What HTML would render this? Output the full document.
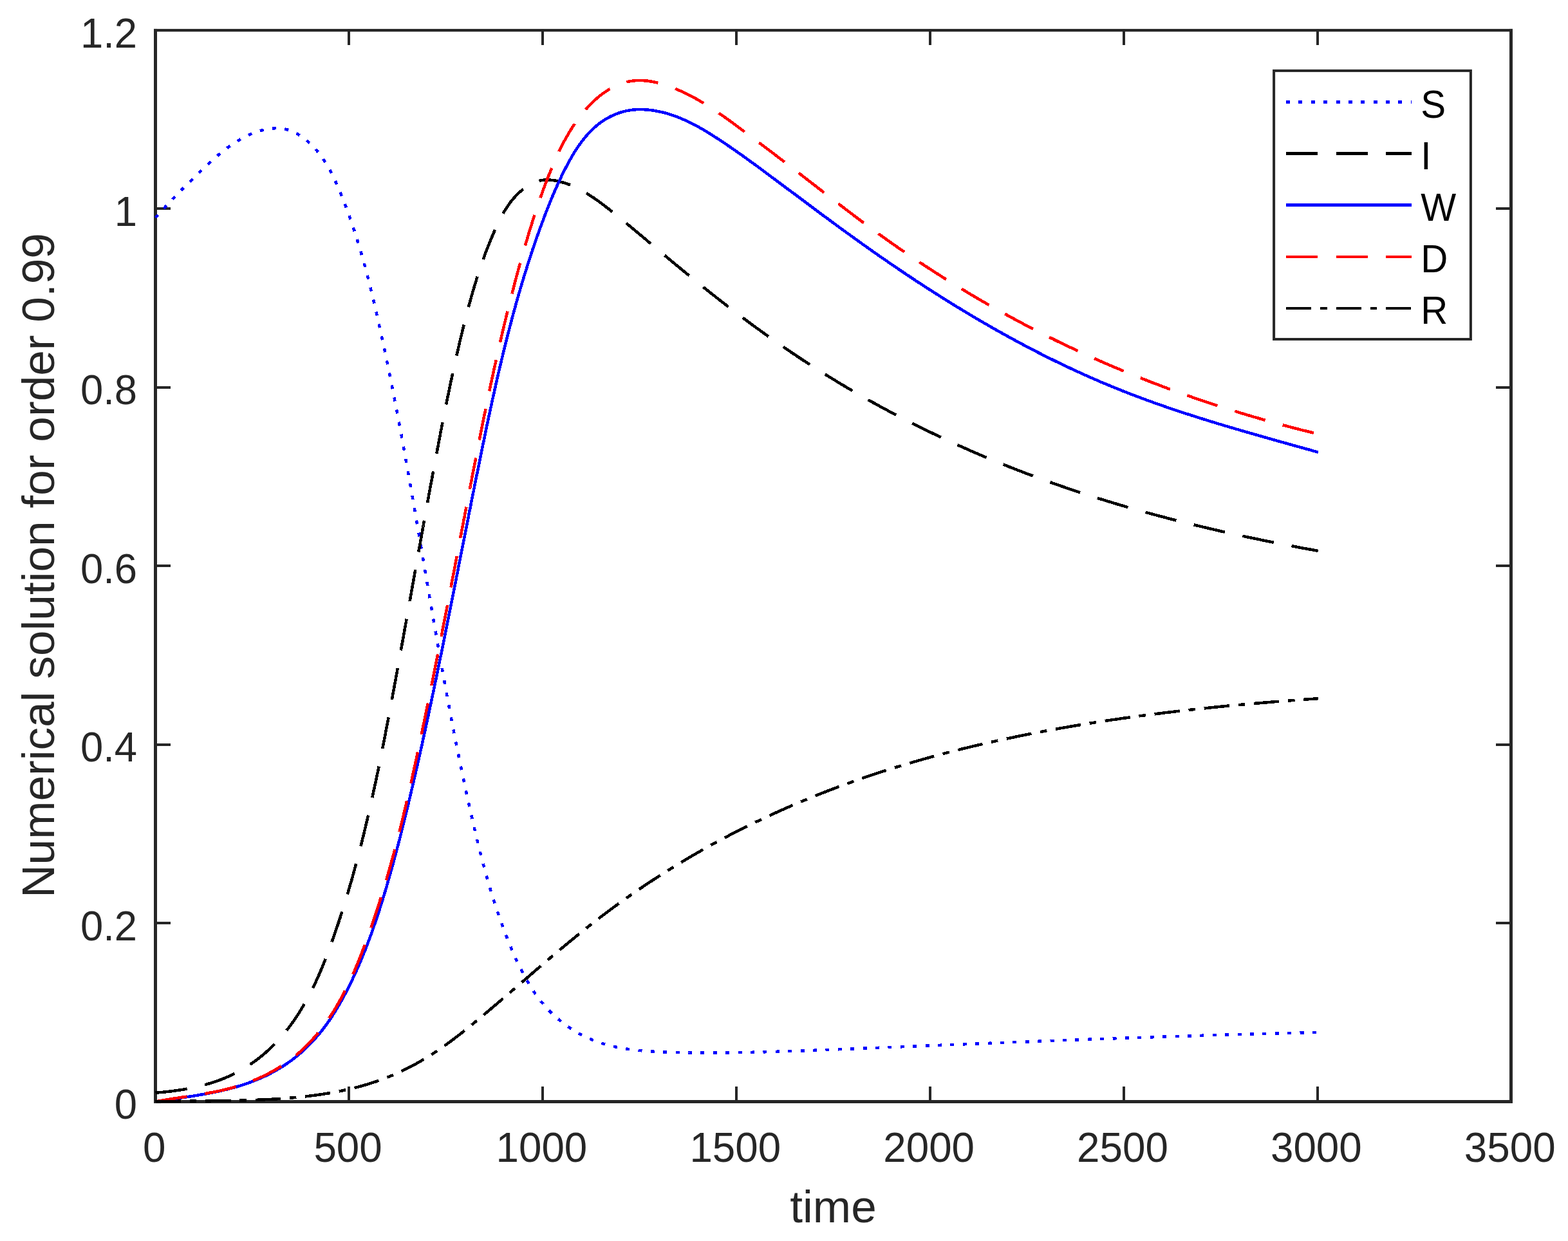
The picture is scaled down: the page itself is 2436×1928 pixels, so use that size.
<!DOCTYPE html>
<html lang="en"><head><meta charset="utf-8"><title>Numerical solution for order 0.99</title>
<style>html,body{margin:0;padding:0;background:#fff;overflow:hidden}svg{display:block}text{font-family:"Liberation Sans",sans-serif}</style></head><body>
<svg width="2436" height="1928" viewBox="0 0 2436 1928">
<rect x="0" y="0" width="2436" height="1928" fill="#ffffff"/>
<g fill="#262626" shape-rendering="auto">
<rect x="239" y="44.9" width="5" height="1669.1"/>
<rect x="2345" y="44.9" width="5" height="1669.1"/>
<rect x="239" y="1709" width="2111" height="5"/>
<rect x="239" y="44.9" width="2111" height="4.3"/>
<rect x="540" y="1688" width="4" height="21"/>
<rect x="540" y="49" width="4" height="21"/>
<rect x="841" y="1688" width="4" height="21"/>
<rect x="841" y="49" width="4" height="21"/>
<rect x="1142" y="1688" width="4" height="21"/>
<rect x="1142" y="49" width="4" height="21"/>
<rect x="1443" y="1688" width="4" height="21"/>
<rect x="1443" y="49" width="4" height="21"/>
<rect x="1744" y="1688" width="4" height="21"/>
<rect x="1744" y="49" width="4" height="21"/>
<rect x="2045" y="1688" width="4" height="21"/>
<rect x="2045" y="49" width="4" height="21"/>
<rect x="244" y="1432" width="21" height="4"/>
<rect x="2324" y="1432" width="21" height="4"/>
<rect x="244" y="1155" width="21" height="4"/>
<rect x="2324" y="1155" width="21" height="4"/>
<rect x="244" y="877" width="21" height="4"/>
<rect x="2324" y="877" width="21" height="4"/>
<rect x="244" y="600" width="21" height="4"/>
<rect x="2324" y="600" width="21" height="4"/>
<rect x="244" y="322" width="21" height="4"/>
<rect x="2324" y="322" width="21" height="4"/>
</g>
<g fill="none" stroke-linejoin="round" stroke-linecap="butt" shape-rendering="crispEdges">
<path d="M241.5 338.3L242.8 336.8L244.2 335.3L245.5 333.8L246.9 332.3L248.2 330.8L249.6 329.3L250.9 327.8L252.3 326.3L253.6 324.8L255.0 323.4L256.3 321.9L257.7 320.4L259.1 319.0L260.4 317.5L261.8 316.1L263.2 314.6L264.5 313.2L265.9 311.7L267.3 310.3L268.7 308.8L270.0 307.4L271.4 306.0L272.8 304.5L274.2 303.1L275.6 301.7L277.0 300.3L278.3 298.9L279.7 297.4L281.1 296.0L282.5 294.6L283.9 293.2L285.3 291.8L286.7 290.4L288.1 289.0L289.5 287.6L290.9 286.2L292.4 284.8L293.8 283.4L295.2 282.0L296.6 280.6L298.0 279.2L299.4 277.8L300.9 276.4L302.3 275.0L303.7 273.6L305.2 272.2L306.6 270.8L308.0 269.4L309.5 268.1L310.9 266.7L312.4 265.3L313.8 263.9L315.3 262.5L316.7 261.1L318.2 259.7L319.6 258.4L321.1 257.0L322.6 255.6L324.1 254.2L325.5 252.9L327.0 251.5L328.5 250.2L330.0 248.8L331.5 247.5L333.0 246.1L334.5 244.8L336.1 243.5L337.6 242.2L339.1 240.9L340.7 239.6L342.2 238.3L343.8 237.0L345.3 235.8L346.9 234.5L348.5 233.3L350.1 232.1L351.7 230.9L353.3 229.7L354.9 228.5L356.5 227.3L358.2 226.2L359.8 225.0L361.5 223.9L363.1 222.8L364.8 221.7L366.5 220.6L368.2 219.6L369.9 218.5L371.7 217.5L373.4 216.5L375.1 215.5L376.9 214.5L378.7 213.6L380.5 212.7L382.3 211.8L384.1 210.9L385.9 210.0L387.8 209.2L389.6 208.4L391.5 207.6L393.4 206.9L395.3 206.1L397.2 205.4L399.1 204.8L401.0 204.1L402.9 203.5L404.9 202.9L406.8 202.4L408.8 201.9L410.8 201.4L412.7 201.0L414.7 200.6L416.6 200.3L418.6 200.0L420.6 199.7L422.6 199.5L424.5 199.4L426.5 199.3L428.4 199.2L430.4 199.2L432.3 199.3L434.3 199.4L436.2 199.6L438.2 199.8L440.1 200.1L442.0 200.4L443.9 200.8L445.8 201.3L447.6 201.9L449.5 202.5L451.3 203.1L453.2 203.8L455.0 204.6L456.8 205.4L458.6 206.3L460.3 207.2L462.1 208.2L463.8 209.2L465.5 210.3L467.2 211.4L468.9 212.5L470.5 213.7L472.2 214.9L473.8 216.1L475.3 217.4L476.9 218.6L478.4 219.9L479.9 221.3L481.4 222.6L482.8 224.0L484.3 225.4L485.7 226.8L487.1 228.2L488.4 229.7L489.7 231.1L491.0 232.6L492.3 234.1L493.6 235.7L494.8 237.2L496.1 238.7L497.3 240.3L498.5 241.9L499.6 243.5L500.8 245.1L501.9 246.7L503.0 248.4L504.1 250.1L505.2 251.7L506.2 253.4L507.3 255.1L508.3 256.8L509.3 258.5L510.3 260.3L511.3 262.0L512.2 263.8L513.2 265.5L514.1 267.3L515.0 269.1L516.0 270.9L516.9 272.7L517.7 274.5L518.6 276.3L519.5 278.1L520.3 279.9L521.2 281.8L522.0 283.6L522.8 285.4L523.7 287.3L524.5 289.1L525.3 291.0L526.1 292.9L526.8 294.7L527.6 296.6L528.4 298.5L529.2 300.3L529.9 302.2L530.7 304.1L531.4 305.9L532.2 307.8L532.9 309.7L533.7 311.6L534.4 313.4L535.1 315.3L535.8 317.2L536.6 319.1L537.3 321.0L538.0 322.8L538.7 324.7L539.4 326.6L540.1 328.5L540.8 330.4L541.4 332.3L542.1 334.2L542.8 336.1L543.5 338.0L544.1 339.9L544.8 341.7L545.4 343.6L546.1 345.5L546.8 347.4L547.4 349.3L548.0 351.2L548.7 353.1L549.3 355.0L549.9 356.9L550.6 358.8L551.2 360.7L551.8 362.6L552.4 364.6L553.0 366.5L553.6 368.4L554.2 370.3L554.8 372.2L555.4 374.1L556.0 376.0L556.6 377.9L557.2 379.8L557.8 381.7L558.3 383.7L558.9 385.6L559.5 387.5L560.0 389.4L560.6 391.3L561.2 393.3L561.7 395.2L562.3 397.1L562.8 399.0L563.4 400.9L563.9 402.9L564.4 404.8L565.0 406.7L565.5 408.6L566.0 410.6L566.6 412.5L567.1 414.4L567.6 416.3L568.1 418.3L568.6 420.2L569.2 422.1L569.7 424.1L570.2 426.0L570.7 427.9L571.2 429.8L571.7 431.8L572.2 433.7L572.7 435.7L573.2 437.6L573.7 439.5L574.2 441.5L574.6 443.4L575.1 445.3L575.6 447.3L576.1 449.2L576.6 451.1L577.0 453.1L577.5 455.0L578.0 457.0L578.5 458.9L578.9 460.8L579.4 462.8L579.8 464.7L580.3 466.7L580.8 468.6L581.2 470.6L581.7 472.5L582.1 474.4L582.6 476.4L583.0 478.3L583.5 480.3L583.9 482.2L584.4 484.2L584.8 486.1L585.3 488.1L585.7 490.0L586.2 492.0L586.6 493.9L587.0 495.9L587.5 497.8L587.9 499.8L588.3 501.7L588.8 503.7L589.2 505.6L589.6 507.6L590.1 509.5L590.5 511.5L590.9 513.4L591.4 515.4L591.8 517.3L592.2 519.3L592.6 521.2L593.1 523.2L593.5 525.1L593.9 527.1L594.3 529.0L594.8 531.0L595.2 532.9L595.6 534.9L596.0 536.8L596.4 538.8L596.8 540.7L597.3 542.7L597.7 544.7L598.1 546.6L598.5 548.6L598.9 550.5L599.3 552.5L599.7 554.4L600.1 556.4L600.5 558.3L600.9 560.3L601.3 562.3L601.8 564.2L602.2 566.2L602.6 568.1L603.0 570.1L603.4 572.0L603.8 574.0L604.2 576.0L604.6 577.9L605.0 579.9L605.4 581.8L605.8 583.8L606.2 585.8L606.5 587.7L606.9 589.7L607.3 591.6L607.7 593.6L608.1 595.6L608.5 597.5L608.9 599.5L609.3 601.4L609.7 603.4L610.1 605.4L610.5 607.3L610.8 609.3L611.2 611.2L611.6 613.2L612.0 615.2L612.4 617.1L612.8 619.1L613.1 621.1L613.5 623.0L613.9 625.0L614.3 626.9L614.7 628.9L615.0 630.9L615.4 632.8L615.8 634.8L616.2 636.8L616.6 638.7L616.9 640.7L617.3 642.7L617.7 644.6L618.0 646.6L618.4 648.6L618.8 650.5L619.2 652.5L619.5 654.5L619.9 656.4L620.3 658.4L620.6 660.3L621.0 662.3L621.4 664.3L621.7 666.2L622.1 668.2L622.5 670.2L622.8 672.1L623.2 674.1L623.6 676.1L623.9 678.1L624.3 680.0L624.7 682.0L625.0 684.0L625.4 685.9L625.8 687.9L626.1 689.9L626.5 691.8L626.8 693.8L627.2 695.8L627.6 697.7L627.9 699.7L628.3 701.7L628.6 703.6L629.0 705.6L629.3 707.6L629.7 709.5L630.0 711.5L630.4 713.5L630.8 715.5L631.1 717.4L631.5 719.4L631.8 721.4L632.2 723.3L632.5 725.3L632.9 727.3L633.2 729.2L633.6 731.2L633.9 733.2L634.3 735.2L634.6 737.1L635.0 739.1L635.3 741.1L635.7 743.0L636.0 745.0L636.4 747.0L636.7 749.0L637.1 750.9L637.4 752.9L637.8 754.9L638.1 756.8L638.5 758.8L638.8 760.8L639.1 762.8L639.5 764.7L639.8 766.7L640.2 768.7L640.5 770.6L640.9 772.6L641.2 774.6L641.6 776.6L641.9 778.5L642.2 780.5L642.6 782.5L642.9 784.4L643.3 786.4L643.6 788.4L643.9 790.4L644.3 792.3L644.6 794.3L645.0 796.3L645.3 798.2L645.6 800.2L646.0 802.2L646.3 804.2L646.7 806.1L647.0 808.1L647.3 810.1L647.7 812.1L648.0 814.0L648.4 816.0L648.7 818.0L649.0 819.9L649.4 821.9L649.7 823.9L650.1 825.9L650.4 827.8L650.7 829.8L651.1 831.8L651.4 833.8L651.7 835.7L652.1 837.7L652.4 839.7L652.7 841.6L653.1 843.6L653.4 845.6L653.8 847.6L654.1 849.5L654.4 851.5L654.8 853.5L655.1 855.5L655.4 857.4L655.8 859.4L656.1 861.4L656.4 863.4L656.8 865.3L657.1 867.3L657.5 869.3L657.8 871.2L658.1 873.2L658.5 875.2L658.8 877.2L659.1 879.1L659.5 881.1L659.8 883.1L660.1 885.1L660.5 887.0L660.8 889.0L661.1 891.0L661.5 892.9L661.8 894.9L662.2 896.9L662.5 898.9L662.8 900.8L663.2 902.8L663.5 904.8L663.8 906.7L664.2 908.7L664.5 910.7L664.8 912.7L665.2 914.6L665.5 916.6L665.8 918.6L666.2 920.6L666.5 922.5L666.9 924.5L667.2 926.5L667.5 928.4L667.9 930.4L668.2 932.4L668.5 934.4L668.9 936.3L669.2 938.3L669.6 940.3L669.9 942.2L670.2 944.2L670.6 946.2L670.9 948.2L671.3 950.1L671.6 952.1L671.9 954.1L672.3 956.0L672.6 958.0L673.0 960.0L673.3 962.0L673.6 963.9L674.0 965.9L674.3 967.9L674.7 969.8L675.0 971.8L675.3 973.8L675.7 975.8L676.0 977.7L676.4 979.7L676.7 981.7L677.1 983.6L677.4 985.6L677.7 987.6L678.1 989.5L678.4 991.5L678.8 993.5L679.1 995.5L679.5 997.4L679.8 999.4L680.2 1001.4L680.5 1003.3L680.8 1005.3L681.2 1007.3L681.5 1009.2L681.9 1011.2L682.2 1013.2L682.6 1015.2L682.9 1017.1L683.3 1019.1L683.6 1021.1L684.0 1023.0L684.3 1025.0L684.7 1027.0L685.0 1028.9L685.4 1030.9L685.7 1032.9L686.1 1034.8L686.4 1036.8L686.8 1038.8L687.1 1040.7L687.5 1042.7L687.9 1044.7L688.2 1046.6L688.6 1048.6L688.9 1050.6L689.3 1052.5L689.6 1054.5L690.0 1056.5L690.4 1058.4L690.7 1060.4L691.1 1062.4L691.4 1064.3L691.8 1066.3L692.2 1068.3L692.5 1070.2L692.9 1072.2L693.2 1074.2L693.6 1076.1L694.0 1078.1L694.3 1080.1L694.7 1082.0L695.1 1084.0L695.4 1086.0L695.8 1087.9L696.2 1089.9L696.5 1091.9L696.9 1093.8L697.3 1095.8L697.6 1097.8L698.0 1099.7L698.4 1101.7L698.7 1103.7L699.1 1105.6L699.5 1107.6L699.9 1109.5L700.2 1111.5L700.6 1113.5L701.0 1115.4L701.4 1117.4L701.7 1119.4L702.1 1121.3L702.5 1123.3L702.9 1125.3L703.2 1127.2L703.6 1129.2L704.0 1131.1L704.4 1133.1L704.8 1135.1L705.1 1137.0L705.5 1139.0L705.9 1141.0L706.3 1142.9L706.7 1144.9L707.1 1146.8L707.5 1148.8L707.8 1150.8L708.2 1152.7L708.6 1154.7L709.0 1156.6L709.4 1158.6L709.8 1160.6L710.2 1162.5L710.6 1164.5L711.0 1166.4L711.4 1168.4L711.8 1170.4L712.2 1172.3L712.5 1174.3L712.9 1176.2L713.3 1178.2L713.7 1180.2L714.1 1182.1L714.5 1184.1L714.9 1186.0L715.3 1188.0L715.8 1189.9L716.2 1191.9L716.6 1193.9L717.0 1195.8L717.4 1197.8L717.8 1199.7L718.2 1201.7L718.6 1203.6L719.0 1205.6L719.4 1207.6L719.8 1209.5L720.3 1211.5L720.7 1213.4L721.1 1215.4L721.5 1217.3L721.9 1219.3L722.3 1221.2L722.8 1223.2L723.2 1225.1L723.6 1227.1L724.0 1229.1L724.4 1231.0L724.9 1233.0L725.3 1234.9L725.7 1236.9L726.1 1238.8L726.6 1240.8L727.0 1242.7L727.4 1244.7L727.9 1246.6L728.3 1248.6L728.7 1250.5L729.2 1252.5L729.6 1254.4L730.0 1256.4L730.5 1258.3L730.9 1260.3L731.3 1262.2L731.8 1264.2L732.2 1266.1L732.7 1268.1L733.1 1270.0L733.6 1272.0L734.0 1273.9L734.5 1275.9L734.9 1277.8L735.4 1279.8L735.8 1281.7L736.3 1283.7L736.7 1285.6L737.2 1287.6L737.6 1289.5L738.1 1291.5L738.5 1293.4L739.0 1295.4L739.5 1297.3L739.9 1299.3L740.4 1301.2L740.9 1303.1L741.3 1305.1L741.8 1307.0L742.3 1309.0L742.8 1310.9L743.2 1312.9L743.7 1314.8L744.2 1316.7L744.7 1318.7L745.2 1320.6L745.6 1322.6L746.1 1324.5L746.6 1326.4L747.1 1328.4L747.6 1330.3L748.1 1332.3L748.6 1334.2L749.1 1336.1L749.6 1338.1L750.1 1340.0L750.6 1341.9L751.2 1343.9L751.7 1345.8L752.2 1347.7L752.7 1349.7L753.2 1351.6L753.8 1353.5L754.3 1355.4L754.8 1357.4L755.4 1359.3L755.9 1361.2L756.4 1363.1L757.0 1365.1L757.5 1367.0L758.1 1368.9L758.6 1370.8L759.2 1372.8L759.8 1374.7L760.3 1376.6L760.9 1378.5L761.5 1380.4L762.0 1382.3L762.6 1384.3L763.2 1386.2L763.8 1388.1L764.4 1390.0L764.9 1391.9L765.5 1393.8L766.1 1395.7L766.7 1397.6L767.3 1399.5L767.9 1401.4L768.6 1403.3L769.2 1405.3L769.8 1407.2L770.4 1409.1L771.0 1411.0L771.7 1412.9L772.3 1414.8L772.9 1416.6L773.6 1418.5L774.2 1420.4L774.9 1422.3L775.5 1424.2L776.2 1426.1L776.9 1428.0L777.5 1429.9L778.2 1431.8L778.9 1433.7L779.6 1435.5L780.2 1437.4L780.9 1439.3L781.6 1441.2L782.3 1443.1L783.0 1444.9L783.7 1446.8L784.5 1448.7L785.2 1450.6L785.9 1452.4L786.6 1454.3L787.4 1456.2L788.1 1458.0L788.8 1459.9L789.6 1461.8L790.3 1463.6L791.1 1465.5L791.9 1467.4L792.6 1469.2L793.4 1471.1L794.2 1472.9L795.0 1474.8L795.7 1476.6L796.5 1478.5L797.3 1480.3L798.1 1482.2L799.0 1484.0L799.8 1485.9L800.6 1487.7L801.4 1489.5L802.3 1491.4L803.1 1493.2L804.0 1495.0L804.8 1496.8L805.7 1498.6L806.6 1500.4L807.5 1502.3L808.3 1504.1L809.2 1505.8L810.2 1507.6L811.1 1509.4L812.0 1511.2L812.9 1513.0L813.9 1514.7L814.8 1516.5L815.8 1518.3L816.8 1520.0L817.7 1521.8L818.7 1523.5L819.7 1525.2L820.8 1526.9L821.8 1528.6L822.8 1530.4L823.9 1532.0L824.9 1533.7L826.0 1535.4L827.1 1537.1L828.2 1538.7L829.3 1540.4L830.4 1542.0L831.5 1543.7L832.7 1545.3L833.8 1546.9L835.0 1548.5L836.2 1550.1L837.4 1551.7L838.6 1553.3L839.8 1554.8L841.0 1556.4L842.3 1557.9L843.6 1559.5L844.8 1561.0L846.1 1562.5L847.4 1564.0L848.8 1565.5L850.1 1566.9L851.5 1568.4L852.8 1569.8L854.2 1571.2L855.6 1572.7L857.1 1574.1L858.5 1575.5L859.9 1576.8L861.4 1578.2L862.9 1579.5L864.4 1580.9L865.9 1582.2L867.4 1583.5L869.0 1584.8L870.5 1586.0L872.1 1587.3L873.7 1588.5L875.2 1589.8L876.9 1591.0L878.5 1592.2L880.1 1593.3L881.7 1594.5L883.4 1595.7L885.1 1596.8L886.7 1597.9L888.4 1599.0L890.1 1600.1L891.8 1601.1L893.6 1602.2L895.3 1603.2L897.0 1604.2L898.8 1605.2L900.5 1606.2L902.3 1607.1L904.1 1608.0L905.9 1609.0L907.7 1609.9L909.5 1610.7L911.3 1611.6L913.1 1612.4L914.9 1613.2L916.8 1614.0L918.6 1614.8L920.4 1615.6L922.3 1616.3L924.2 1617.0L926.0 1617.7L927.9 1618.4L929.8 1619.1L931.7 1619.7L933.5 1620.3L935.4 1620.9L937.3 1621.5L939.2 1622.1L941.2 1622.6L943.1 1623.2L945.0 1623.7L946.9 1624.2L948.8 1624.7L950.8 1625.1L952.7 1625.6L954.7 1626.0L956.6 1626.5L958.6 1626.9L960.5 1627.3L962.5 1627.6L964.4 1628.0L966.4 1628.4L968.4 1628.7L970.3 1629.0L972.3 1629.4L974.3 1629.7L976.3 1630.0L978.3 1630.2L980.3 1630.5L982.2 1630.8L984.2 1631.0L986.2 1631.3L988.2 1631.5L990.2 1631.7L992.2 1631.9L994.2 1632.1L996.2 1632.3L998.2 1632.5L1000.2 1632.6L1002.3 1632.8L1004.3 1633.0L1006.3 1633.1L1008.3 1633.3L1010.3 1633.4L1012.3 1633.5L1014.3 1633.7L1016.3 1633.8L1018.3 1633.9L1020.4 1634.0L1022.4 1634.1L1024.4 1634.2L1026.4 1634.3L1028.4 1634.4L1030.4 1634.4L1032.4 1634.5L1034.4 1634.6L1036.5 1634.7L1038.5 1634.7L1040.5 1634.8L1042.5 1634.9L1044.5 1634.9L1046.5 1635.0L1048.5 1635.0L1050.5 1635.1L1052.5 1635.1L1054.5 1635.2L1056.5 1635.2L1058.5 1635.3L1060.5 1635.3L1062.5 1635.4L1064.5 1635.4L1066.5 1635.4L1068.5 1635.4L1070.5 1635.5L1072.5 1635.5L1074.5 1635.5L1076.5 1635.5L1078.5 1635.6L1080.5 1635.6L1082.5 1635.6L1084.5 1635.6L1086.5 1635.6L1088.5 1635.6L1090.5 1635.6L1092.4 1635.6L1094.4 1635.6L1096.4 1635.6L1098.4 1635.6L1100.4 1635.6L1102.4 1635.6L1104.4 1635.6L1106.4 1635.6L1108.4 1635.6L1110.4 1635.6L1112.4 1635.6L1114.4 1635.6L1116.4 1635.5L1118.4 1635.5L1120.4 1635.5L1122.4 1635.5L1124.4 1635.5L1126.4 1635.4L1128.4 1635.4L1130.3 1635.4L1132.3 1635.4L1134.3 1635.4L1136.3 1635.3L1138.3 1635.3L1140.3 1635.3L1142.3 1635.2L1144.3 1635.2L1146.3 1635.2L1148.3 1635.1L1150.3 1635.1L1152.3 1635.1L1154.3 1635.0L1156.3 1635.0L1158.3 1635.0L1160.3 1634.9L1162.3 1634.9L1164.3 1634.8L1166.3 1634.8L1168.3 1634.8L1170.3 1634.7L1172.3 1634.7L1174.3 1634.6L1176.3 1634.6L1178.3 1634.5L1180.3 1634.5L1182.3 1634.4L1184.3 1634.4L1186.3 1634.3L1188.3 1634.3L1190.3 1634.2L1192.3 1634.2L1194.3 1634.1L1196.2 1634.1L1198.2 1634.0L1200.2 1633.9L1202.2 1633.9L1204.2 1633.8L1206.2 1633.8L1208.2 1633.7L1210.2 1633.6L1212.2 1633.6L1214.2 1633.5L1216.2 1633.5L1218.2 1633.4L1220.2 1633.3L1222.2 1633.3L1224.2 1633.2L1226.2 1633.1L1228.2 1633.1L1230.2 1633.0L1232.2 1632.9L1234.2 1632.9L1236.2 1632.8L1238.2 1632.7L1240.2 1632.7L1242.2 1632.6L1244.2 1632.5L1246.2 1632.4L1248.2 1632.4L1250.2 1632.3L1252.2 1632.2L1254.2 1632.2L1256.2 1632.1L1258.2 1632.0L1260.2 1631.9L1262.2 1631.9L1264.2 1631.8L1266.2 1631.7L1268.2 1631.6L1270.2 1631.6L1272.2 1631.5L1274.2 1631.4L1276.2 1631.3L1278.2 1631.2L1280.2 1631.2L1282.2 1631.1L1284.2 1631.0L1286.2 1630.9L1288.2 1630.8L1290.2 1630.8L1292.2 1630.7L1294.2 1630.6L1296.2 1630.5L1298.2 1630.4L1300.2 1630.4L1302.2 1630.3L1304.2 1630.2L1306.2 1630.1L1308.2 1630.0L1310.2 1630.0L1312.2 1629.9L1314.2 1629.8L1316.2 1629.7L1318.2 1629.6L1320.2 1629.6L1322.2 1629.5L1324.2 1629.4L1326.2 1629.3L1328.2 1629.2L1330.2 1629.1L1332.2 1629.1L1334.2 1629.0L1336.2 1628.9L1338.2 1628.8L1340.2 1628.7L1342.2 1628.7L1344.2 1628.6L1346.2 1628.5L1348.2 1628.4L1350.2 1628.3L1352.2 1628.2L1354.2 1628.2L1356.2 1628.1L1358.2 1628.0L1360.2 1627.9L1362.2 1627.8L1364.2 1627.8L1366.2 1627.7L1368.2 1627.6L1370.2 1627.5L1372.2 1627.4L1374.2 1627.3L1376.2 1627.3L1378.2 1627.2L1380.2 1627.1L1382.2 1627.0L1384.2 1626.9L1386.2 1626.9L1388.2 1626.8L1390.2 1626.7L1392.2 1626.6L1394.2 1626.5L1396.2 1626.4L1398.2 1626.4L1400.2 1626.3L1402.2 1626.2L1404.2 1626.1L1406.2 1626.0L1408.2 1626.0L1410.2 1625.9L1412.2 1625.8L1414.2 1625.7L1416.2 1625.6L1418.2 1625.5L1420.2 1625.5L1422.2 1625.4L1424.2 1625.3L1426.2 1625.2L1428.2 1625.1L1430.2 1625.1L1432.2 1625.0L1434.2 1624.9L1436.2 1624.8L1438.2 1624.7L1440.2 1624.6L1442.2 1624.6L1444.2 1624.5L1446.2 1624.4L1448.2 1624.3L1450.1 1624.2L1452.1 1624.2L1454.1 1624.1L1456.1 1624.0L1458.1 1623.9L1460.1 1623.8L1462.1 1623.7L1464.1 1623.7L1466.1 1623.6L1468.1 1623.5L1470.1 1623.4L1472.1 1623.3L1474.1 1623.3L1476.1 1623.2L1478.1 1623.1L1480.1 1623.0L1482.1 1622.9L1484.1 1622.9L1486.1 1622.8L1488.1 1622.7L1490.1 1622.6L1492.1 1622.5L1494.1 1622.4L1496.1 1622.4L1498.1 1622.3L1500.1 1622.2L1502.1 1622.1L1504.1 1622.0L1506.1 1622.0L1508.1 1621.9L1510.1 1621.8L1512.1 1621.7L1514.1 1621.6L1516.1 1621.6L1518.1 1621.5L1520.1 1621.4L1522.1 1621.3L1524.1 1621.2L1526.1 1621.2L1528.1 1621.1L1530.1 1621.0L1532.1 1620.9L1534.1 1620.8L1536.1 1620.8L1538.1 1620.7L1540.1 1620.6L1542.1 1620.5L1544.1 1620.4L1546.1 1620.4L1548.1 1620.3L1550.1 1620.2L1552.1 1620.1L1554.1 1620.0L1556.1 1620.0L1558.1 1619.9L1560.1 1619.8L1562.1 1619.7L1564.1 1619.6L1566.1 1619.6L1568.1 1619.5L1570.1 1619.4L1572.1 1619.3L1574.1 1619.2L1576.1 1619.2L1578.1 1619.1L1580.1 1619.0L1582.0 1618.9L1584.0 1618.9L1586.0 1618.8L1588.0 1618.7L1590.0 1618.6L1592.0 1618.5L1594.0 1618.5L1596.0 1618.4L1598.0 1618.3L1600.0 1618.2L1602.0 1618.2L1604.0 1618.1L1606.0 1618.0L1608.0 1617.9L1610.0 1617.8L1612.0 1617.8L1614.0 1617.7L1616.0 1617.6L1618.0 1617.5L1620.0 1617.5L1622.0 1617.4L1624.0 1617.3L1626.0 1617.2L1628.0 1617.1L1630.0 1617.1L1632.0 1617.0L1634.0 1616.9L1636.0 1616.8L1638.0 1616.8L1640.0 1616.7L1642.0 1616.6L1644.0 1616.5L1646.0 1616.5L1648.0 1616.4L1650.0 1616.3L1652.0 1616.2L1654.0 1616.2L1656.0 1616.1L1658.0 1616.0L1660.0 1615.9L1662.0 1615.9L1664.0 1615.8L1666.0 1615.7L1668.0 1615.6L1670.0 1615.6L1672.0 1615.5L1674.0 1615.4L1676.0 1615.3L1678.0 1615.3L1680.0 1615.2L1682.0 1615.1L1684.0 1615.0L1686.0 1615.0L1688.0 1614.9L1690.0 1614.8L1692.0 1614.7L1694.0 1614.7L1696.0 1614.6L1698.0 1614.5L1699.9 1614.4L1701.9 1614.4L1703.9 1614.3L1705.9 1614.2L1707.9 1614.1L1709.9 1614.1L1711.9 1614.0L1713.9 1613.9L1715.9 1613.9L1717.9 1613.8L1719.9 1613.7L1721.9 1613.6L1723.9 1613.6L1725.9 1613.5L1727.9 1613.4L1729.9 1613.3L1731.9 1613.3L1733.9 1613.2L1735.9 1613.1L1737.9 1613.1L1739.9 1613.0L1741.9 1612.9L1743.9 1612.9L1745.9 1612.8L1747.9 1612.7L1749.9 1612.6L1751.9 1612.6L1753.9 1612.5L1755.9 1612.4L1757.9 1612.4L1759.9 1612.3L1761.9 1612.2L1763.9 1612.1L1765.9 1612.1L1767.9 1612.0L1769.9 1611.9L1771.9 1611.9L1773.9 1611.8L1775.9 1611.7L1777.9 1611.7L1779.9 1611.6L1781.9 1611.5L1783.9 1611.5L1785.9 1611.4L1787.9 1611.3L1789.9 1611.3L1791.9 1611.2L1793.9 1611.1L1795.9 1611.1L1797.9 1611.0L1799.9 1610.9L1801.9 1610.9L1803.9 1610.8L1805.9 1610.7L1807.9 1610.7L1809.9 1610.6L1811.9 1610.5L1813.9 1610.5L1815.9 1610.4L1817.9 1610.3L1819.9 1610.3L1821.9 1610.2L1823.9 1610.1L1825.9 1610.1L1827.9 1610.0L1829.9 1609.9L1831.9 1609.9L1833.8 1609.8L1835.8 1609.7L1837.8 1609.7L1839.8 1609.6L1841.8 1609.5L1843.8 1609.5L1845.8 1609.4L1847.8 1609.3L1849.8 1609.3L1851.8 1609.2L1853.8 1609.2L1855.8 1609.1L1857.8 1609.0L1859.8 1609.0L1861.8 1608.9L1863.8 1608.8L1865.8 1608.8L1867.8 1608.7L1869.8 1608.7L1871.8 1608.6L1873.8 1608.5L1875.8 1608.5L1877.8 1608.4L1879.8 1608.4L1881.8 1608.3L1883.8 1608.2L1885.8 1608.2L1887.8 1608.1L1889.8 1608.1L1891.8 1608.0L1893.8 1607.9L1895.8 1607.9L1897.8 1607.8L1899.8 1607.8L1901.8 1607.7L1903.8 1607.6L1905.8 1607.6L1907.8 1607.5L1909.8 1607.5L1911.8 1607.4L1913.8 1607.3L1915.8 1607.3L1917.8 1607.2L1919.8 1607.2L1921.8 1607.1L1923.8 1607.1L1925.8 1607.0L1927.8 1606.9L1929.8 1606.9L1931.8 1606.8L1933.8 1606.8L1935.8 1606.7L1937.8 1606.7L1939.8 1606.6L1941.8 1606.5L1943.8 1606.5L1945.8 1606.4L1947.8 1606.4L1949.8 1606.3L1951.8 1606.3L1953.8 1606.2L1955.8 1606.2L1957.8 1606.1L1959.8 1606.1L1961.8 1606.0L1963.8 1606.0L1965.8 1605.9L1967.8 1605.8L1969.8 1605.8L1971.8 1605.7L1973.8 1605.7L1975.8 1605.6L1977.8 1605.6L1979.8 1605.5L1981.8 1605.5L1983.8 1605.4L1985.8 1605.4L1987.8 1605.3L1989.8 1605.3L1991.8 1605.2L1993.8 1605.2L1995.8 1605.1L1997.8 1605.1L1999.8 1605.0L2001.8 1605.0L2003.8 1604.9L2005.8 1604.9L2007.8 1604.8L2009.8 1604.8L2011.8 1604.7L2013.8 1604.7L2015.8 1604.6L2017.8 1604.6L2019.8 1604.5L2021.8 1604.5L2023.8 1604.4L2025.8 1604.4L2027.8 1604.4L2029.8 1604.3L2031.8 1604.3L2033.8 1604.2L2035.8 1604.2L2037.8 1604.1L2039.8 1604.1L2041.8 1604.0L2043.8 1604.0L2045.8 1603.9L2047.8 1603.9" stroke="#0000ff" stroke-width="4.5" stroke-dasharray="6 13.414"/>
<path d="M241.5 1697.7L243.5 1697.5L245.4 1697.4L247.4 1697.2L249.4 1697.1L251.3 1696.9L253.3 1696.7L255.3 1696.5L257.3 1696.3L259.3 1696.1L261.2 1695.9L263.2 1695.6L265.2 1695.4L267.2 1695.2L269.2 1694.9L271.2 1694.6L273.1 1694.4L275.1 1694.1L277.1 1693.8L279.1 1693.5L281.1 1693.2L283.1 1692.9L285.1 1692.5L287.0 1692.2L289.0 1691.8L291.0 1691.5L293.0 1691.1L295.0 1690.7L296.9 1690.3L298.9 1689.9L300.9 1689.5L302.8 1689.1L304.8 1688.6L306.8 1688.2L308.7 1687.7L310.7 1687.3L312.6 1686.8L314.6 1686.3L316.5 1685.8L318.5 1685.2L320.4 1684.7L322.4 1684.1L324.3 1683.6L326.2 1683.0L328.1 1682.4L330.0 1681.8L332.0 1681.2L333.9 1680.6L335.8 1679.9L337.7 1679.2L339.5 1678.6L341.4 1677.9L343.3 1677.2L345.2 1676.5L347.0 1675.7L348.9 1675.0L350.7 1674.2L352.6 1673.4L354.4 1672.6L356.2 1671.8L358.1 1671.0L359.9 1670.1L361.7 1669.3L363.5 1668.4L365.2 1667.5L367.0 1666.6L368.8 1665.7L370.5 1664.7L372.3 1663.8L374.0 1662.8L375.8 1661.8L377.5 1660.8L379.2 1659.8L380.9 1658.7L382.6 1657.7L384.3 1656.6L386.0 1655.5L387.7 1654.4L389.3 1653.3L391.0 1652.2L392.6 1651.0L394.2 1649.9L395.9 1648.7L397.5 1647.5L399.1 1646.3L400.7 1645.1L402.2 1643.9L403.8 1642.7L405.4 1641.4L406.9 1640.2L408.4 1638.9L410.0 1637.6L411.5 1636.3L413.0 1635.0L414.5 1633.6L416.0 1632.3L417.5 1631.0L418.9 1629.6L420.4 1628.2L421.8 1626.8L423.2 1625.4L424.7 1624.0L426.1 1622.6L427.5 1621.2L428.8 1619.7L430.2 1618.3L431.6 1616.8L432.9 1615.4L434.3 1613.9L435.6 1612.4L436.9 1610.9L438.2 1609.4L439.5 1607.9L440.8 1606.3L442.1 1604.8L443.3 1603.2L444.6 1601.7L445.8 1600.1L447.0 1598.5L448.3 1597.0L449.5 1595.4L450.7 1593.8L451.9 1592.2L453.0 1590.5L454.2 1588.9L455.4 1587.3L456.5 1585.6L457.7 1584.0L458.8 1582.3L459.9 1580.7L461.0 1579.0L462.1 1577.3L463.2 1575.7L464.3 1574.0L465.4 1572.3L466.4 1570.6L467.5 1568.9L468.5 1567.1L469.5 1565.4L470.6 1563.7L471.6 1562.0L472.6 1560.2L473.6 1558.5L474.6 1556.7L475.6 1555.0L476.5 1553.2L477.5 1551.5L478.5 1549.7L479.4 1547.9L480.3 1546.2L481.3 1544.4L482.2 1542.6L483.1 1540.8L484.0 1539.0L484.9 1537.2L485.8 1535.4L486.7 1533.6L487.6 1531.8L488.4 1530.0L489.3 1528.2L490.1 1526.4L491.0 1524.6L491.8 1522.7L492.6 1520.9L493.5 1519.1L494.3 1517.3L495.1 1515.4L495.9 1513.6L496.7 1511.8L497.5 1509.9L498.3 1508.1L499.0 1506.2L499.8 1504.4L500.6 1502.5L501.3 1500.7L502.1 1498.8L502.8 1497.0L503.6 1495.1L504.3 1493.3L505.0 1491.4L505.8 1489.5L506.5 1487.7L507.2 1485.8L507.9 1483.9L508.6 1482.1L509.3 1480.2L510.1 1478.3L510.8 1476.5L511.4 1474.6L512.1 1472.7L512.8 1470.8L513.5 1468.9L514.2 1467.1L514.9 1465.2L515.5 1463.3L516.2 1461.4L516.9 1459.5L517.5 1457.7L518.2 1455.8L518.9 1453.9L519.5 1452.0L520.2 1450.1L520.8 1448.2L521.5 1446.3L522.1 1444.4L522.8 1442.5L523.4 1440.7L524.1 1438.8L524.7 1436.9L525.3 1435.0L526.0 1433.1L526.6 1431.2L527.2 1429.3L527.8 1427.4L528.5 1425.5L529.1 1423.6L529.7 1421.7L530.3 1419.8L530.9 1417.9L531.5 1416.0L532.1 1414.1L532.7 1412.2L533.3 1410.3L533.9 1408.4L534.5 1406.5L535.1 1404.6L535.7 1402.6L536.3 1400.7L536.9 1398.8L537.5 1396.9L538.1 1395.0L538.6 1393.1L539.2 1391.2L539.8 1389.3L540.4 1387.4L540.9 1385.4L541.5 1383.5L542.1 1381.6L542.6 1379.7L543.2 1377.8L543.7 1375.9L544.3 1373.9L544.9 1372.0L545.4 1370.1L546.0 1368.2L546.5 1366.3L547.1 1364.3L547.6 1362.4L548.1 1360.5L548.7 1358.6L549.2 1356.7L549.7 1354.7L550.3 1352.8L550.8 1350.9L551.3 1348.9L551.9 1347.0L552.4 1345.1L552.9 1343.2L553.4 1341.2L554.0 1339.3L554.5 1337.4L555.0 1335.4L555.5 1333.5L556.0 1331.6L556.5 1329.7L557.0 1327.7L557.5 1325.8L558.0 1323.9L558.5 1321.9L559.0 1320.0L559.5 1318.0L560.0 1316.1L560.5 1314.2L561.0 1312.2L561.5 1310.3L562.0 1308.4L562.5 1306.4L563.0 1304.5L563.4 1302.5L563.9 1300.6L564.4 1298.7L564.9 1296.7L565.4 1294.8L565.8 1292.8L566.3 1290.9L566.8 1288.9L567.2 1287.0L567.7 1285.1L568.2 1283.1L568.6 1281.2L569.1 1279.2L569.6 1277.3L570.0 1275.3L570.5 1273.4L570.9 1271.4L571.4 1269.5L571.9 1267.5L572.3 1265.6L572.8 1263.6L573.2 1261.7L573.7 1259.7L574.1 1257.8L574.5 1255.8L575.0 1253.9L575.4 1251.9L575.9 1250.0L576.3 1248.0L576.7 1246.1L577.2 1244.1L577.6 1242.2L578.1 1240.2L578.5 1238.3L578.9 1236.3L579.3 1234.4L579.8 1232.4L580.2 1230.5L580.6 1228.5L581.0 1226.5L581.5 1224.6L581.9 1222.6L582.3 1220.7L582.7 1218.7L583.2 1216.8L583.6 1214.8L584.0 1212.8L584.4 1210.9L584.8 1208.9L585.2 1207.0L585.6 1205.0L586.1 1203.0L586.5 1201.1L586.9 1199.1L587.3 1197.2L587.7 1195.2L588.1 1193.2L588.5 1191.3L588.9 1189.3L589.3 1187.4L589.7 1185.4L590.1 1183.4L590.5 1181.5L590.9 1179.5L591.3 1177.6L591.7 1175.6L592.1 1173.6L592.5 1171.7L592.9 1169.7L593.3 1167.7L593.7 1165.8L594.0 1163.8L594.4 1161.8L594.8 1159.9L595.2 1157.9L595.6 1155.9L596.0 1154.0L596.4 1152.0L596.8 1150.1L597.1 1148.1L597.5 1146.1L597.9 1144.2L598.3 1142.2L598.7 1140.2L599.1 1138.3L599.4 1136.3L599.8 1134.3L600.2 1132.4L600.6 1130.4L600.9 1128.4L601.3 1126.5L601.7 1124.5L602.1 1122.5L602.5 1120.6L602.8 1118.6L603.2 1116.6L603.6 1114.7L603.9 1112.7L604.3 1110.7L604.7 1108.8L605.1 1106.8L605.4 1104.8L605.8 1102.9L606.2 1100.9L606.5 1098.9L606.9 1096.9L607.3 1095.0L607.7 1093.0L608.0 1091.0L608.4 1089.1L608.8 1087.1L609.1 1085.1L609.5 1083.2L609.9 1081.2L610.2 1079.2L610.6 1077.3L611.0 1075.3L611.3 1073.3L611.7 1071.4L612.1 1069.4L612.4 1067.4L612.8 1065.5L613.1 1063.5L613.5 1061.5L613.9 1059.6L614.2 1057.6L614.6 1055.6L615.0 1053.7L615.3 1051.7L615.7 1049.7L616.0 1047.7L616.4 1045.8L616.8 1043.8L617.1 1041.8L617.5 1039.9L617.8 1037.9L618.2 1035.9L618.6 1034.0L618.9 1032.0L619.3 1030.0L619.6 1028.1L620.0 1026.1L620.4 1024.1L620.7 1022.2L621.1 1020.2L621.4 1018.2L621.8 1016.3L622.1 1014.3L622.5 1012.3L622.9 1010.4L623.2 1008.4L623.6 1006.4L623.9 1004.5L624.3 1002.5L624.6 1000.5L625.0 998.5L625.4 996.6L625.7 994.6L626.1 992.6L626.4 990.7L626.8 988.7L627.1 986.7L627.5 984.8L627.8 982.8L628.2 980.8L628.5 978.9L628.9 976.9L629.3 974.9L629.6 973.0L630.0 971.0L630.3 969.0L630.7 967.1L631.0 965.1L631.4 963.1L631.7 961.2L632.1 959.2L632.4 957.2L632.8 955.3L633.1 953.3L633.5 951.3L633.8 949.3L634.2 947.4L634.6 945.4L634.9 943.4L635.3 941.5L635.6 939.5L636.0 937.5L636.3 935.6L636.7 933.6L637.0 931.6L637.4 929.7L637.7 927.7L638.1 925.7L638.4 923.8L638.8 921.8L639.1 919.8L639.5 917.9L639.8 915.9L640.2 913.9L640.5 912.0L640.9 910.0L641.2 908.0L641.6 906.1L641.9 904.1L642.3 902.1L642.6 900.2L643.0 898.2L643.4 896.2L643.7 894.2L644.1 892.3L644.4 890.3L644.8 888.3L645.1 886.4L645.5 884.4L645.8 882.4L646.2 880.5L646.5 878.5L646.9 876.5L647.2 874.6L647.6 872.6L647.9 870.6L648.3 868.7L648.6 866.7L649.0 864.7L649.3 862.8L649.7 860.8L650.0 858.8L650.4 856.9L650.7 854.9L651.1 852.9L651.5 851.0L651.8 849.0L652.2 847.0L652.5 845.1L652.9 843.1L653.2 841.1L653.6 839.2L653.9 837.2L654.3 835.2L654.6 833.2L655.0 831.3L655.3 829.3L655.7 827.3L656.1 825.4L656.4 823.4L656.8 821.4L657.1 819.5L657.5 817.5L657.8 815.5L658.2 813.6L658.5 811.6L658.9 809.6L659.3 807.7L659.6 805.7L660.0 803.7L660.3 801.8L660.7 799.8L661.0 797.8L661.4 795.9L661.8 793.9L662.1 791.9L662.5 790.0L662.8 788.0L663.2 786.0L663.6 784.1L663.9 782.1L664.3 780.1L664.6 778.2L665.0 776.2L665.4 774.2L665.7 772.3L666.1 770.3L666.4 768.3L666.8 766.4L667.2 764.4L667.5 762.4L667.9 760.5L668.2 758.5L668.6 756.5L669.0 754.6L669.3 752.6L669.7 750.6L670.1 748.7L670.4 746.7L670.8 744.7L671.2 742.8L671.5 740.8L671.9 738.8L672.2 736.9L672.6 734.9L673.0 732.9L673.3 731.0L673.7 729.0L674.1 727.0L674.4 725.1L674.8 723.1L675.2 721.1L675.6 719.2L675.9 717.2L676.3 715.2L676.7 713.3L677.0 711.3L677.4 709.3L677.8 707.4L678.1 705.4L678.5 703.4L678.9 701.5L679.3 699.5L679.6 697.5L680.0 695.6L680.4 693.6L680.8 691.6L681.1 689.7L681.5 687.7L681.9 685.7L682.3 683.8L682.6 681.8L683.0 679.8L683.4 677.9L683.8 675.9L684.1 673.9L684.5 672.0L684.9 670.0L685.3 668.0L685.7 666.1L686.0 664.1L686.4 662.1L686.8 660.2L687.2 658.2L687.6 656.2L688.0 654.3L688.4 652.3L688.7 650.3L689.1 648.4L689.5 646.4L689.9 644.5L690.3 642.5L690.7 640.5L691.1 638.6L691.5 636.6L691.9 634.6L692.3 632.7L692.7 630.7L693.1 628.8L693.5 626.8L693.8 624.8L694.2 622.9L694.6 620.9L695.1 618.9L695.5 617.0L695.9 615.0L696.3 613.1L696.7 611.1L697.1 609.1L697.5 607.2L697.9 605.2L698.3 603.3L698.7 601.3L699.1 599.3L699.5 597.4L699.9 595.4L700.4 593.5L700.8 591.5L701.2 589.6L701.6 587.6L702.0 585.6L702.5 583.7L702.9 581.7L703.3 579.8L703.7 577.8L704.2 575.9L704.6 573.9L705.0 572.0L705.4 570.0L705.9 568.0L706.3 566.1L706.7 564.1L707.2 562.2L707.6 560.2L708.1 558.3L708.5 556.3L708.9 554.4L709.4 552.4L709.8 550.5L710.3 548.5L710.7 546.6L711.2 544.6L711.6 542.7L712.1 540.7L712.5 538.8L713.0 536.8L713.4 534.9L713.9 532.9L714.3 531.0L714.8 529.1L715.3 527.1L715.7 525.2L716.2 523.2L716.7 521.3L717.1 519.3L717.6 517.4L718.1 515.5L718.6 513.5L719.0 511.6L719.5 509.6L720.0 507.7L720.5 505.8L721.0 503.8L721.5 501.9L721.9 499.9L722.4 498.0L722.9 496.1L723.4 494.1L723.9 492.2L724.4 490.3L724.9 488.3L725.4 486.4L725.9 484.5L726.4 482.5L726.9 480.6L727.5 478.7L728.0 476.7L728.5 474.8L729.0 472.9L729.5 470.9L730.1 469.0L730.6 467.1L731.1 465.2L731.7 463.2L732.2 461.3L732.8 459.4L733.3 457.5L733.9 455.6L734.4 453.6L735.0 451.7L735.5 449.8L736.1 447.9L736.7 446.0L737.2 444.1L737.8 442.2L738.4 440.2L739.0 438.3L739.6 436.4L740.1 434.5L740.7 432.6L741.3 430.7L742.0 428.8L742.6 426.9L743.2 425.0L743.8 423.1L744.4 421.2L745.0 419.3L745.7 417.4L746.3 415.5L747.0 413.6L747.6 411.7L748.3 409.8L748.9 408.0L749.6 406.1L750.2 404.2L750.9 402.3L751.6 400.4L752.3 398.5L753.0 396.7L753.7 394.8L754.3 392.9L755.1 391.0L755.8 389.2L756.5 387.3L757.2 385.4L757.9 383.6L758.7 381.7L759.4 379.8L760.2 378.0L760.9 376.1L761.7 374.3L762.4 372.4L763.2 370.5L764.0 368.7L764.8 366.8L765.5 365.0L766.3 363.1L767.1 361.3L768.0 359.5L768.8 357.6L769.6 355.8L770.4 353.9L771.3 352.1L772.1 350.3L773.0 348.5L773.8 346.6L774.7 344.8L775.6 343.0L776.5 341.2L777.4 339.4L778.4 337.7L779.3 335.9L780.3 334.1L781.2 332.4L782.2 330.6L783.2 328.9L784.3 327.2L785.3 325.5L786.4 323.8L787.5 322.1L788.6 320.5L789.7 318.8L790.8 317.2L792.0 315.6L793.2 314.0L794.4 312.4L795.7 310.8L797.0 309.3L798.3 307.8L799.6 306.3L800.9 304.8L802.3 303.4L803.7 301.9L805.2 300.5L806.6 299.1L808.1 297.8L809.7 296.5L811.2 295.1L812.8 293.9L814.5 292.6L816.1 291.4L817.8 290.2L819.5 289.1L821.3 288.0L823.1 286.9L824.9 286.0L826.7 285.0L828.5 284.1L830.4 283.3L832.3 282.6L834.2 281.9L836.1 281.3L838.0 280.8L839.9 280.4L841.9 280.1L843.8 279.8L845.8 279.6L847.7 279.5L849.7 279.4L851.7 279.5L853.7 279.5L855.6 279.7L857.6 279.9L859.6 280.1L861.5 280.4L863.5 280.8L865.5 281.2L867.4 281.6L869.3 282.1L871.3 282.6L873.2 283.1L875.1 283.7L877.0 284.2L878.9 284.9L880.7 285.5L882.6 286.2L884.5 286.9L886.3 287.6L888.1 288.4L890.0 289.1L891.8 289.9L893.6 290.8L895.4 291.6L897.2 292.5L898.9 293.4L900.7 294.3L902.5 295.2L904.2 296.2L906.0 297.2L907.7 298.1L909.4 299.2L911.1 300.2L912.8 301.2L914.5 302.3L916.2 303.4L917.9 304.5L919.6 305.6L921.3 306.7L923.0 307.8L924.6 309.0L926.3 310.1L927.9 311.3L929.6 312.5L931.2 313.7L932.8 314.9L934.5 316.1L936.1 317.3L937.7 318.5L939.3 319.7L940.9 321.0L942.5 322.2L944.1 323.5L945.7 324.7L947.3 326.0L948.9 327.2L950.5 328.5L952.1 329.7L953.7 331.0L955.2 332.3L956.8 333.5L958.4 334.8L959.9 336.1L961.5 337.3L963.1 338.6L964.6 339.9L966.2 341.1L967.7 342.4L969.3 343.7L970.8 345.0L972.4 346.2L973.9 347.5L975.4 348.8L977.0 350.1L978.5 351.3L980.1 352.6L981.6 353.9L983.1 355.2L984.7 356.4L986.2 357.7L987.7 359.0L989.2 360.3L990.8 361.6L992.3 362.8L993.8 364.1L995.3 365.4L996.9 366.7L998.4 368.0L999.9 369.3L1001.4 370.5L1003.0 371.8L1004.5 373.1L1006.0 374.4L1007.5 375.7L1009.0 377.0L1010.6 378.2L1012.1 379.5L1013.6 380.8L1015.1 382.1L1016.7 383.4L1018.2 384.7L1019.7 385.9L1021.2 387.2L1022.8 388.5L1024.3 389.8L1025.8 391.1L1027.4 392.3L1028.9 393.6L1030.4 394.9L1031.9 396.2L1033.5 397.5L1035.0 398.7L1036.5 400.0L1038.1 401.3L1039.6 402.6L1041.1 403.8L1042.7 405.1L1044.2 406.4L1045.7 407.7L1047.3 409.0L1048.8 410.2L1050.4 411.5L1051.9 412.8L1053.4 414.0L1055.0 415.3L1056.5 416.6L1058.1 417.9L1059.6 419.1L1061.1 420.4L1062.7 421.7L1064.2 422.9L1065.8 424.2L1067.3 425.5L1068.9 426.7L1070.4 428.0L1072.0 429.3L1073.5 430.5L1075.1 431.8L1076.6 433.1L1078.2 434.3L1079.7 435.6L1081.3 436.8L1082.8 438.1L1084.4 439.4L1085.9 440.6L1087.5 441.9L1089.1 443.1L1090.6 444.4L1092.2 445.6L1093.7 446.9L1095.3 448.1L1096.9 449.4L1098.4 450.6L1100.0 451.9L1101.5 453.1L1103.1 454.4L1104.7 455.6L1106.2 456.9L1107.8 458.1L1109.4 459.3L1111.0 460.6L1112.5 461.8L1114.1 463.1L1115.7 464.3L1117.3 465.5L1118.8 466.8L1120.4 468.0L1122.0 469.2L1123.6 470.5L1125.1 471.7L1126.7 472.9L1128.3 474.1L1129.9 475.4L1131.5 476.6L1133.1 477.8L1134.6 479.0L1136.2 480.2L1137.8 481.5L1139.4 482.7L1141.0 483.9L1142.6 485.1L1144.2 486.3L1145.8 487.5L1147.4 488.7L1149.0 489.9L1150.6 491.1L1152.2 492.3L1153.8 493.5L1155.4 494.7L1157.0 495.9L1158.6 497.1L1160.2 498.3L1161.8 499.5L1163.4 500.7L1165.0 501.9L1166.6 503.1L1168.2 504.3L1169.9 505.5L1171.5 506.7L1173.1 507.8L1174.7 509.0L1176.3 510.2L1177.9 511.4L1179.6 512.5L1181.2 513.7L1182.8 514.9L1184.4 516.1L1186.1 517.2L1187.7 518.4L1189.3 519.6L1190.9 520.7L1192.6 521.9L1194.2 523.0L1195.8 524.2L1197.5 525.3L1199.1 526.5L1200.7 527.6L1202.4 528.8L1204.0 529.9L1205.7 531.1L1207.3 532.2L1208.9 533.4L1210.6 534.5L1212.2 535.7L1213.9 536.8L1215.5 537.9L1217.2 539.1L1218.8 540.2L1220.5 541.3L1222.1 542.5L1223.8 543.6L1225.4 544.7L1227.1 545.8L1228.8 547.0L1230.4 548.1L1232.1 549.2L1233.7 550.3L1235.4 551.4L1237.1 552.5L1238.7 553.6L1240.4 554.7L1242.1 555.9L1243.7 557.0L1245.4 558.1L1247.1 559.2L1248.7 560.3L1250.4 561.4L1252.1 562.4L1253.8 563.5L1255.4 564.6L1257.1 565.7L1258.8 566.8L1260.5 567.9L1262.2 569.0L1263.8 570.1L1265.5 571.1L1267.2 572.2L1268.9 573.3L1270.6 574.4L1272.3 575.4L1274.0 576.5L1275.7 577.6L1277.4 578.6L1279.0 579.7L1280.7 580.8L1282.4 581.8L1284.1 582.9L1285.8 583.9L1287.5 585.0L1289.2 586.0L1290.9 587.1L1292.6 588.1L1294.3 589.2L1296.1 590.2L1297.8 591.3L1299.5 592.3L1301.2 593.4L1302.9 594.4L1304.6 595.4L1306.3 596.5L1308.0 597.5L1309.7 598.5L1311.5 599.5L1313.2 600.6L1314.9 601.6L1316.6 602.6L1318.3 603.6L1320.1 604.6L1321.8 605.6L1323.5 606.7L1325.2 607.7L1327.0 608.7L1328.7 609.7L1330.4 610.7L1332.2 611.7L1333.9 612.7L1335.6 613.7L1337.4 614.7L1339.1 615.7L1340.8 616.7L1342.6 617.6L1344.3 618.6L1346.0 619.6L1347.8 620.6L1349.5 621.6L1351.3 622.6L1353.0 623.5L1354.8 624.5L1356.5 625.5L1358.3 626.4L1360.0 627.4L1361.8 628.4L1363.5 629.3L1365.3 630.3L1367.0 631.3L1368.8 632.2L1370.5 633.2L1372.3 634.1L1374.1 635.1L1375.8 636.0L1377.6 637.0L1379.3 637.9L1381.1 638.9L1382.9 639.8L1384.6 640.7L1386.4 641.7L1388.2 642.6L1389.9 643.6L1391.7 644.5L1393.5 645.4L1395.2 646.3L1397.0 647.3L1398.8 648.2L1400.6 649.1L1402.3 650.0L1404.1 650.9L1405.9 651.9L1407.7 652.8L1409.5 653.7L1411.2 654.6L1413.0 655.5L1414.8 656.4L1416.6 657.3L1418.4 658.2L1420.2 659.1L1421.9 660.0L1423.7 660.9L1425.5 661.8L1427.3 662.7L1429.1 663.6L1430.9 664.5L1432.7 665.3L1434.5 666.2L1436.3 667.1L1438.1 668.0L1439.9 668.9L1441.7 669.7L1443.5 670.6L1445.3 671.5L1447.1 672.3L1448.9 673.2L1450.7 674.1L1452.5 674.9L1454.3 675.8L1456.1 676.6L1457.9 677.5L1459.7 678.4L1461.5 679.2L1463.3 680.1L1465.1 680.9L1467.0 681.8L1468.8 682.6L1470.6 683.4L1472.4 684.3L1474.2 685.1L1476.0 686.0L1477.8 686.8L1479.7 687.6L1481.5 688.5L1483.3 689.3L1485.1 690.1L1486.9 690.9L1488.8 691.8L1490.6 692.6L1492.4 693.4L1494.2 694.2L1496.1 695.0L1497.9 695.8L1499.7 696.6L1501.6 697.5L1503.4 698.3L1505.2 699.1L1507.1 699.9L1508.9 700.7L1510.7 701.5L1512.6 702.3L1514.4 703.1L1516.2 703.9L1518.1 704.6L1519.9 705.4L1521.7 706.2L1523.6 707.0L1525.4 707.8L1527.3 708.6L1529.1 709.4L1531.0 710.1L1532.8 710.9L1534.6 711.7L1536.5 712.4L1538.3 713.2L1540.2 714.0L1542.0 714.7L1543.9 715.5L1545.7 716.3L1547.6 717.0L1549.4 717.8L1551.3 718.5L1553.1 719.3L1555.0 720.1L1556.8 720.8L1558.7 721.6L1560.6 722.3L1562.4 723.0L1564.3 723.8L1566.1 724.5L1568.0 725.3L1569.9 726.0L1571.7 726.7L1573.6 727.5L1575.4 728.2L1577.3 728.9L1579.2 729.7L1581.0 730.4L1582.9 731.1L1584.8 731.8L1586.6 732.5L1588.5 733.3L1590.4 734.0L1592.2 734.7L1594.1 735.4L1596.0 736.1L1597.8 736.8L1599.7 737.5L1601.6 738.2L1603.5 738.9L1605.3 739.6L1607.2 740.3L1609.1 741.0L1611.0 741.7L1612.8 742.4L1614.7 743.1L1616.6 743.8L1618.5 744.5L1620.4 745.1L1622.2 745.8L1624.1 746.5L1626.0 747.2L1627.9 747.9L1629.8 748.5L1631.7 749.2L1633.5 749.9L1635.4 750.6L1637.3 751.2L1639.2 751.9L1641.1 752.6L1643.0 753.2L1644.9 753.9L1646.8 754.5L1648.6 755.2L1650.5 755.8L1652.4 756.5L1654.3 757.1L1656.2 757.8L1658.1 758.4L1660.0 759.1L1661.9 759.7L1663.8 760.4L1665.7 761.0L1667.6 761.6L1669.5 762.3L1671.4 762.9L1673.3 763.5L1675.2 764.2L1677.1 764.8L1679.0 765.4L1680.9 766.0L1682.8 766.7L1684.7 767.3L1686.6 767.9L1688.5 768.5L1690.4 769.1L1692.3 769.8L1694.2 770.4L1696.1 771.0L1698.0 771.6L1699.9 772.2L1701.8 772.8L1703.7 773.4L1705.6 774.0L1707.5 774.6L1709.4 775.2L1711.4 775.8L1713.3 776.4L1715.2 777.0L1717.1 777.6L1719.0 778.1L1720.9 778.7L1722.8 779.3L1724.7 779.9L1726.7 780.5L1728.6 781.1L1730.5 781.6L1732.4 782.2L1734.3 782.8L1736.2 783.4L1738.2 783.9L1740.1 784.5L1742.0 785.1L1743.9 785.6L1745.8 786.2L1747.7 786.7L1749.7 787.3L1751.6 787.9L1753.5 788.4L1755.4 789.0L1757.3 789.5L1759.3 790.1L1761.2 790.6L1763.1 791.2L1765.0 791.7L1767.0 792.3L1768.9 792.8L1770.8 793.4L1772.7 793.9L1774.7 794.4L1776.6 795.0L1778.5 795.5L1780.5 796.0L1782.4 796.6L1784.3 797.1L1786.2 797.6L1788.2 798.2L1790.1 798.7L1792.0 799.2L1794.0 799.7L1795.9 800.2L1797.8 800.8L1799.8 801.3L1801.7 801.8L1803.6 802.3L1805.6 802.8L1807.5 803.3L1809.4 803.8L1811.4 804.4L1813.3 804.9L1815.2 805.4L1817.2 805.9L1819.1 806.4L1821.0 806.9L1823.0 807.4L1824.9 807.9L1826.9 808.4L1828.8 808.9L1830.7 809.3L1832.7 809.8L1834.6 810.3L1836.6 810.8L1838.5 811.3L1840.4 811.8L1842.4 812.3L1844.3 812.8L1846.3 813.2L1848.2 813.7L1850.1 814.2L1852.1 814.7L1854.0 815.1L1856.0 815.6L1857.9 816.1L1859.9 816.6L1861.8 817.0L1863.8 817.5L1865.7 818.0L1867.6 818.4L1869.6 818.9L1871.5 819.4L1873.5 819.8L1875.4 820.3L1877.4 820.7L1879.3 821.2L1881.3 821.7L1883.2 822.1L1885.2 822.6L1887.1 823.0L1889.1 823.5L1891.0 823.9L1893.0 824.4L1894.9 824.8L1896.9 825.3L1898.8 825.7L1900.8 826.1L1902.7 826.6L1904.7 827.0L1906.6 827.5L1908.6 827.9L1910.5 828.3L1912.5 828.8L1914.4 829.2L1916.4 829.6L1918.3 830.1L1920.3 830.5L1922.3 830.9L1924.2 831.3L1926.2 831.8L1928.1 832.2L1930.1 832.6L1932.0 833.0L1934.0 833.5L1935.9 833.9L1937.9 834.3L1939.9 834.7L1941.8 835.1L1943.8 835.5L1945.7 836.0L1947.7 836.4L1949.6 836.8L1951.6 837.2L1953.6 837.6L1955.5 838.0L1957.5 838.4L1959.4 838.8L1961.4 839.2L1963.4 839.6L1965.3 840.0L1967.3 840.4L1969.2 840.8L1971.2 841.2L1973.2 841.6L1975.1 842.0L1977.1 842.4L1979.0 842.8L1981.0 843.2L1983.0 843.6L1984.9 844.0L1986.9 844.4L1988.9 844.8L1990.8 845.1L1992.8 845.5L1994.7 845.9L1996.7 846.3L1998.7 846.7L2000.6 847.1L2002.6 847.4L2004.6 847.8L2006.5 848.2L2008.5 848.6L2010.5 848.9L2012.4 849.3L2014.4 849.7L2016.3 850.1L2018.3 850.4L2020.3 850.8L2022.2 851.2L2024.2 851.6L2026.2 851.9L2028.1 852.3L2030.1 852.7L2032.1 853.0L2034.0 853.4L2036.0 853.7L2038.0 854.1L2039.9 854.5L2041.9 854.8L2043.9 855.2L2045.8 855.5L2047.8 855.9" stroke="#000000" stroke-width="4.5" stroke-dasharray="49.55 28.13"/>
<path d="M241.5 1711.5L243.5 1711.2L245.4 1710.9L247.4 1710.6L249.4 1710.3L251.3 1710.0L253.3 1709.7L255.3 1709.4L257.3 1709.1L259.2 1708.8L261.2 1708.5L263.2 1708.2L265.2 1707.9L267.1 1707.6L269.1 1707.3L271.1 1707.0L273.1 1706.7L275.1 1706.4L277.1 1706.2L279.0 1705.9L281.0 1705.6L283.0 1705.3L285.0 1705.0L287.0 1704.7L288.9 1704.4L290.9 1704.1L292.9 1703.8L294.9 1703.5L296.9 1703.2L298.9 1702.9L300.8 1702.6L302.8 1702.2L304.8 1701.9L306.8 1701.6L308.7 1701.3L310.7 1700.9L312.7 1700.6L314.7 1700.3L316.7 1699.9L318.6 1699.6L320.6 1699.2L322.6 1698.9L324.5 1698.5L326.5 1698.1L328.5 1697.7L330.4 1697.4L332.4 1697.0L334.4 1696.6L336.3 1696.2L338.3 1695.7L340.2 1695.3L342.2 1694.9L344.1 1694.4L346.1 1694.0L348.0 1693.5L350.0 1693.1L351.9 1692.6L353.9 1692.1L355.8 1691.6L357.8 1691.1L359.7 1690.6L361.6 1690.1L363.5 1689.6L365.5 1689.0L367.4 1688.5L369.3 1687.9L371.2 1687.3L373.1 1686.7L375.1 1686.1L377.0 1685.5L378.9 1684.9L380.8 1684.3L382.7 1683.6L384.6 1683.0L386.4 1682.3L388.3 1681.6L390.2 1680.9L392.1 1680.2L393.9 1679.5L395.8 1678.7L397.7 1678.0L399.5 1677.2L401.4 1676.5L403.2 1675.7L405.0 1674.9L406.9 1674.1L408.7 1673.3L410.5 1672.4L412.3 1671.6L414.1 1670.7L415.9 1669.8L417.7 1668.9L419.5 1668.0L421.3 1667.1L423.0 1666.2L424.8 1665.2L426.5 1664.3L428.3 1663.3L430.0 1662.3L431.8 1661.3L433.5 1660.3L435.2 1659.2L436.9 1658.2L438.6 1657.1L440.3 1656.0L441.9 1654.9L443.6 1653.8L445.2 1652.7L446.9 1651.6L448.5 1650.4L450.2 1649.2L451.8 1648.1L453.4 1646.9L455.0 1645.7L456.6 1644.4L458.1 1643.2L459.7 1642.0L461.3 1640.7L462.8 1639.4L464.3 1638.1L465.9 1636.8L467.4 1635.5L468.9 1634.2L470.4 1632.8L471.9 1631.5L473.3 1630.1L474.8 1628.7L476.2 1627.4L477.7 1626.0L479.1 1624.6L480.5 1623.1L481.9 1621.7L483.3 1620.3L484.7 1618.8L486.1 1617.3L487.4 1615.9L488.8 1614.4L490.1 1612.9L491.4 1611.4L492.8 1609.9L494.1 1608.3L495.3 1606.8L496.6 1605.3L497.9 1603.7L499.1 1602.2L500.4 1600.6L501.6 1599.0L502.8 1597.4L504.0 1595.8L505.2 1594.2L506.4 1592.6L507.6 1591.0L508.8 1589.4L509.9 1587.8L511.0 1586.1L512.2 1584.5L513.3 1582.8L514.4 1581.1L515.5 1579.5L516.6 1577.8L517.7 1576.1L518.8 1574.4L519.8 1572.7L520.9 1571.0L521.9 1569.3L523.0 1567.6L524.0 1565.9L525.0 1564.2L526.0 1562.5L527.0 1560.7L528.0 1559.0L529.0 1557.3L530.0 1555.5L531.0 1553.8L531.9 1552.0L532.9 1550.3L533.8 1548.5L534.8 1546.7L535.7 1545.0L536.7 1543.2L537.6 1541.4L538.5 1539.7L539.4 1537.9L540.3 1536.1L541.2 1534.3L542.1 1532.5L543.0 1530.7L543.9 1529.0L544.8 1527.2L545.6 1525.4L546.5 1523.6L547.4 1521.8L548.2 1520.0L549.1 1518.1L549.9 1516.3L550.8 1514.5L551.6 1512.7L552.4 1510.9L553.3 1509.1L554.1 1507.3L554.9 1505.4L555.7 1503.6L556.5 1501.8L557.3 1500.0L558.1 1498.1L558.9 1496.3L559.7 1494.4L560.5 1492.6L561.2 1490.8L562.0 1488.9L562.8 1487.1L563.5 1485.2L564.3 1483.4L565.0 1481.5L565.8 1479.7L566.5 1477.8L567.3 1476.0L568.0 1474.1L568.7 1472.3L569.4 1470.4L570.2 1468.5L570.9 1466.7L571.6 1464.8L572.3 1462.9L573.0 1461.1L573.7 1459.2L574.4 1457.3L575.1 1455.4L575.8 1453.6L576.5 1451.7L577.1 1449.8L577.8 1447.9L578.5 1446.0L579.2 1444.1L579.8 1442.3L580.5 1440.4L581.1 1438.5L581.8 1436.6L582.5 1434.7L583.1 1432.8L583.7 1430.9L584.4 1429.0L585.0 1427.1L585.7 1425.2L586.3 1423.3L586.9 1421.4L587.5 1419.5L588.2 1417.6L588.8 1415.7L589.4 1413.8L590.0 1411.9L590.6 1410.0L591.2 1408.1L591.8 1406.2L592.4 1404.3L593.0 1402.3L593.6 1400.4L594.2 1398.5L594.8 1396.6L595.4 1394.7L596.0 1392.8L596.5 1390.9L597.1 1388.9L597.7 1387.0L598.3 1385.1L598.8 1383.2L599.4 1381.3L600.0 1379.3L600.6 1377.4L601.1 1375.5L601.7 1373.6L602.2 1371.6L602.8 1369.7L603.3 1367.8L603.9 1365.9L604.5 1363.9L605.0 1362.0L605.5 1360.1L606.1 1358.2L606.6 1356.2L607.2 1354.3L607.7 1352.4L608.3 1350.5L608.8 1348.5L609.3 1346.6L609.9 1344.7L610.4 1342.7L610.9 1340.8L611.4 1338.9L612.0 1336.9L612.5 1335.0L613.0 1333.1L613.5 1331.1L614.1 1329.2L614.6 1327.3L615.1 1325.3L615.6 1323.4L616.1 1321.5L616.6 1319.5L617.1 1317.6L617.7 1315.7L618.2 1313.7L618.7 1311.8L619.2 1309.9L619.7 1307.9L620.2 1306.0L620.7 1304.0L621.2 1302.1L621.7 1300.2L622.2 1298.2L622.7 1296.3L623.2 1294.3L623.6 1292.4L624.1 1290.5L624.6 1288.5L625.1 1286.6L625.6 1284.6L626.1 1282.7L626.6 1280.8L627.1 1278.8L627.5 1276.9L628.0 1274.9L628.5 1273.0L629.0 1271.1L629.4 1269.1L629.9 1267.2L630.4 1265.2L630.9 1263.3L631.3 1261.3L631.8 1259.4L632.3 1257.4L632.8 1255.5L633.2 1253.6L633.7 1251.6L634.2 1249.7L634.6 1247.7L635.1 1245.8L635.6 1243.8L636.0 1241.9L636.5 1239.9L637.0 1238.0L637.4 1236.0L637.9 1234.1L638.3 1232.1L638.8 1230.2L639.2 1228.3L639.7 1226.3L640.2 1224.4L640.6 1222.4L641.1 1220.5L641.5 1218.5L642.0 1216.6L642.4 1214.6L642.9 1212.7L643.3 1210.7L643.8 1208.8L644.2 1206.8L644.7 1204.9L645.1 1202.9L645.6 1201.0L646.0 1199.0L646.5 1197.1L646.9 1195.1L647.4 1193.2L647.8 1191.2L648.3 1189.3L648.7 1187.3L649.1 1185.4L649.6 1183.4L650.0 1181.5L650.5 1179.5L650.9 1177.6L651.3 1175.6L651.8 1173.7L652.2 1171.7L652.7 1169.8L653.1 1167.8L653.5 1165.9L654.0 1163.9L654.4 1162.0L654.8 1160.0L655.3 1158.1L655.7 1156.1L656.1 1154.1L656.6 1152.2L657.0 1150.2L657.4 1148.3L657.8 1146.3L658.3 1144.4L658.7 1142.4L659.1 1140.5L659.6 1138.5L660.0 1136.6L660.4 1134.6L660.8 1132.7L661.3 1130.7L661.7 1128.8L662.1 1126.8L662.5 1124.8L663.0 1122.9L663.4 1120.9L663.8 1119.0L664.2 1117.0L664.6 1115.1L665.1 1113.1L665.5 1111.2L665.9 1109.2L666.3 1107.2L666.7 1105.3L667.2 1103.3L667.6 1101.4L668.0 1099.4L668.4 1097.5L668.8 1095.5L669.2 1093.6L669.7 1091.6L670.1 1089.6L670.5 1087.7L670.9 1085.7L671.3 1083.8L671.7 1081.8L672.1 1079.9L672.5 1077.9L673.0 1075.9L673.4 1074.0L673.8 1072.0L674.2 1070.1L674.6 1068.1L675.0 1066.2L675.4 1064.2L675.8 1062.2L676.2 1060.3L676.6 1058.3L677.0 1056.4L677.5 1054.4L677.9 1052.5L678.3 1050.5L678.7 1048.5L679.1 1046.6L679.5 1044.6L679.9 1042.7L680.3 1040.7L680.7 1038.7L681.1 1036.8L681.5 1034.8L681.9 1032.9L682.3 1030.9L682.7 1028.9L683.1 1027.0L683.5 1025.0L683.9 1023.1L684.3 1021.1L684.7 1019.2L685.1 1017.2L685.5 1015.2L685.9 1013.3L686.3 1011.3L686.7 1009.4L687.1 1007.4L687.5 1005.4L687.9 1003.5L688.3 1001.5L688.7 999.6L689.1 997.6L689.5 995.6L689.9 993.7L690.3 991.7L690.7 989.8L691.1 987.8L691.5 985.8L691.9 983.9L692.2 981.9L692.6 979.9L693.0 978.0L693.4 976.0L693.8 974.1L694.2 972.1L694.6 970.1L695.0 968.2L695.4 966.2L695.8 964.3L696.2 962.3L696.6 960.3L697.0 958.4L697.4 956.4L697.8 954.5L698.1 952.5L698.5 950.5L698.9 948.6L699.3 946.6L699.7 944.6L700.1 942.7L700.5 940.7L700.9 938.8L701.3 936.8L701.7 934.8L702.0 932.9L702.4 930.9L702.8 928.9L703.2 927.0L703.6 925.0L704.0 923.1L704.4 921.1L704.8 919.1L705.2 917.2L705.5 915.2L705.9 913.2L706.3 911.3L706.7 909.3L707.1 907.4L707.5 905.4L707.9 903.4L708.3 901.5L708.7 899.5L709.0 897.5L709.4 895.6L709.8 893.6L710.2 891.7L710.6 889.7L711.0 887.7L711.4 885.8L711.8 883.8L712.1 881.8L712.5 879.9L712.9 877.9L713.3 876.0L713.7 874.0L714.1 872.0L714.5 870.1L714.9 868.1L715.2 866.1L715.6 864.2L716.0 862.2L716.4 860.3L716.8 858.3L717.2 856.3L717.6 854.4L718.0 852.4L718.3 850.4L718.7 848.5L719.1 846.5L719.5 844.5L719.9 842.6L720.3 840.6L720.7 838.7L721.1 836.7L721.4 834.7L721.8 832.8L722.2 830.8L722.6 828.8L723.0 826.9L723.4 824.9L723.8 823.0L724.2 821.0L724.5 819.0L724.9 817.1L725.3 815.1L725.7 813.1L726.1 811.2L726.5 809.2L726.9 807.2L727.3 805.3L727.7 803.3L728.0 801.4L728.4 799.4L728.8 797.4L729.2 795.5L729.6 793.5L730.0 791.5L730.4 789.6L730.8 787.6L731.2 785.7L731.6 783.7L731.9 781.7L732.3 779.8L732.7 777.8L733.1 775.8L733.5 773.9L733.9 771.9L734.3 769.9L734.7 768.0L735.1 766.0L735.5 764.1L735.9 762.1L736.3 760.1L736.7 758.2L737.0 756.2L737.4 754.2L737.8 752.3L738.2 750.3L738.6 748.4L739.0 746.4L739.4 744.4L739.8 742.5L740.2 740.5L740.6 738.5L741.0 736.6L741.4 734.6L741.8 732.7L742.2 730.7L742.6 728.7L743.0 726.8L743.4 724.8L743.8 722.8L744.2 720.9L744.6 718.9L745.0 717.0L745.4 715.0L745.8 713.0L746.2 711.1L746.6 709.1L747.0 707.1L747.4 705.2L747.8 703.2L748.2 701.3L748.6 699.3L749.0 697.3L749.4 695.4L749.8 693.4L750.2 691.5L750.6 689.5L751.0 687.5L751.4 685.6L751.8 683.6L752.2 681.6L752.6 679.7L753.0 677.7L753.4 675.8L753.8 673.8L754.2 671.8L754.7 669.9L755.1 667.9L755.5 666.0L755.9 664.0L756.3 662.0L756.7 660.1L757.1 658.1L757.5 656.2L758.0 654.2L758.4 652.3L758.8 650.3L759.2 648.3L759.6 646.4L760.0 644.4L760.5 642.5L760.9 640.5L761.3 638.5L761.7 636.6L762.1 634.6L762.6 632.7L763.0 630.7L763.4 628.8L763.8 626.8L764.3 624.8L764.7 622.9L765.1 620.9L765.5 619.0L766.0 617.0L766.4 615.1L766.8 613.1L767.3 611.2L767.7 609.2L768.1 607.3L768.6 605.3L769.0 603.3L769.5 601.4L769.9 599.4L770.3 597.5L770.8 595.5L771.2 593.6L771.7 591.6L772.1 589.7L772.5 587.7L773.0 585.8L773.4 583.8L773.9 581.9L774.3 579.9L774.8 578.0L775.2 576.0L775.7 574.1L776.2 572.1L776.6 570.2L777.1 568.2L777.5 566.3L778.0 564.3L778.5 562.4L778.9 560.5L779.4 558.5L779.8 556.6L780.3 554.6L780.8 552.7L781.3 550.7L781.7 548.8L782.2 546.8L782.7 544.9L783.1 543.0L783.6 541.0L784.1 539.1L784.6 537.1L785.1 535.2L785.5 533.2L786.0 531.3L786.5 529.4L787.0 527.4L787.5 525.5L788.0 523.6L788.5 521.6L789.0 519.7L789.5 517.7L790.0 515.8L790.5 513.9L791.0 511.9L791.5 510.0L792.0 508.1L792.5 506.1L793.0 504.2L793.5 502.3L794.0 500.3L794.5 498.4L795.0 496.5L795.5 494.5L796.1 492.6L796.6 490.7L797.1 488.7L797.6 486.8L798.1 484.9L798.7 483.0L799.2 481.0L799.7 479.1L800.3 477.2L800.8 475.3L801.3 473.3L801.9 471.4L802.4 469.5L802.9 467.6L803.5 465.6L804.0 463.7L804.6 461.8L805.1 459.9L805.7 457.9L806.2 456.0L806.8 454.1L807.4 452.2L807.9 450.3L808.5 448.3L809.0 446.4L809.6 444.5L810.2 442.6L810.7 440.7L811.3 438.8L811.9 436.9L812.5 434.9L813.0 433.0L813.6 431.1L814.2 429.2L814.8 427.3L815.4 425.4L816.0 423.5L816.6 421.6L817.2 419.7L817.8 417.8L818.4 415.8L819.0 413.9L819.6 412.0L820.2 410.1L820.8 408.2L821.4 406.3L822.0 404.4L822.6 402.5L823.2 400.6L823.9 398.7L824.5 396.8L825.1 394.9L825.7 393.0L826.4 391.1L827.0 389.2L827.6 387.3L828.3 385.4L828.9 383.5L829.6 381.7L830.2 379.8L830.8 377.9L831.5 376.0L832.2 374.1L832.8 372.2L833.5 370.3L834.1 368.4L834.8 366.5L835.5 364.6L836.1 362.8L836.8 360.9L837.5 359.0L838.2 357.1L838.8 355.2L839.5 353.3L840.2 351.5L840.9 349.6L841.6 347.7L842.3 345.8L843.0 343.9L843.7 342.1L844.4 340.2L845.1 338.3L845.8 336.4L846.5 334.6L847.2 332.7L847.9 330.8L848.7 329.0L849.4 327.1L850.1 325.2L850.8 323.4L851.6 321.5L852.3 319.6L853.1 317.8L853.8 315.9L854.6 314.1L855.3 312.2L856.1 310.4L856.8 308.5L857.6 306.7L858.4 304.8L859.2 303.0L860.0 301.1L860.7 299.3L861.5 297.5L862.3 295.6L863.1 293.8L864.0 292.0L864.8 290.1L865.6 288.3L866.4 286.5L867.2 284.7L868.1 282.9L868.9 281.1L869.8 279.2L870.6 277.4L871.5 275.6L872.3 273.8L873.2 272.0L874.1 270.2L875.0 268.4L875.9 266.7L876.7 264.9L877.6 263.1L878.6 261.3L879.5 259.5L880.4 257.8L881.3 256.0L882.3 254.3L883.2 252.5L884.2 250.7L885.1 249.0L886.1 247.3L887.1 245.5L888.1 243.8L889.1 242.1L890.1 240.3L891.2 238.6L892.2 236.9L893.3 235.2L894.4 233.5L895.5 231.8L896.6 230.2L897.7 228.5L898.8 226.8L900.0 225.2L901.2 223.5L902.3 221.9L903.5 220.3L904.8 218.7L906.0 217.1L907.3 215.5L908.5 214.0L909.8 212.4L911.1 210.9L912.4 209.4L913.8 207.9L915.1 206.4L916.5 205.0L917.9 203.5L919.3 202.1L920.8 200.7L922.2 199.3L923.7 198.0L925.2 196.7L926.7 195.4L928.2 194.1L929.8 192.9L931.4 191.6L933.0 190.5L934.6 189.3L936.2 188.2L937.9 187.1L939.6 186.0L941.3 184.9L943.0 183.9L944.7 183.0L946.5 182.0L948.3 181.1L950.1 180.2L951.9 179.4L953.7 178.5L955.5 177.8L957.4 177.0L959.2 176.3L961.1 175.6L963.0 175.0L964.9 174.4L966.8 173.8L968.7 173.3L970.6 172.8L972.6 172.4L974.5 172.0L976.5 171.6L978.5 171.3L980.4 171.0L982.4 170.7L984.4 170.5L986.4 170.4L988.4 170.2L990.4 170.1L992.4 170.1L994.4 170.1L996.4 170.1L998.4 170.1L1000.4 170.2L1002.4 170.3L1004.5 170.4L1006.5 170.6L1008.5 170.8L1010.5 171.0L1012.5 171.3L1014.5 171.6L1016.5 171.9L1018.4 172.2L1020.4 172.6L1022.4 173.0L1024.3 173.4L1026.3 173.8L1028.2 174.2L1030.2 174.7L1032.1 175.2L1034.0 175.7L1036.0 176.3L1037.9 176.8L1039.8 177.4L1041.7 178.0L1043.6 178.6L1045.4 179.2L1047.3 179.9L1049.2 180.6L1051.1 181.3L1052.9 182.0L1054.8 182.7L1056.6 183.5L1058.4 184.2L1060.3 185.0L1062.1 185.8L1063.9 186.6L1065.7 187.4L1067.6 188.3L1069.4 189.1L1071.2 190.0L1073.0 190.9L1074.7 191.8L1076.5 192.7L1078.3 193.6L1080.1 194.5L1081.9 195.5L1083.6 196.4L1085.4 197.4L1087.1 198.4L1088.9 199.4L1090.6 200.4L1092.4 201.4L1094.1 202.4L1095.8 203.4L1097.6 204.4L1099.3 205.5L1101.0 206.5L1102.7 207.6L1104.4 208.7L1106.1 209.7L1107.8 210.8L1109.5 211.9L1111.2 213.0L1112.9 214.1L1114.6 215.2L1116.3 216.3L1118.0 217.4L1119.7 218.5L1121.3 219.6L1123.0 220.7L1124.7 221.9L1126.4 223.0L1128.0 224.1L1129.7 225.2L1131.4 226.4L1133.0 227.5L1134.7 228.6L1136.3 229.8L1138.0 230.9L1139.6 232.1L1141.3 233.2L1142.9 234.3L1144.5 235.5L1146.2 236.6L1147.8 237.8L1149.5 239.0L1151.1 240.1L1152.7 241.3L1154.3 242.4L1156.0 243.6L1157.6 244.8L1159.2 245.9L1160.8 247.1L1162.5 248.3L1164.1 249.4L1165.7 250.6L1167.3 251.8L1168.9 252.9L1170.5 254.1L1172.2 255.3L1173.8 256.5L1175.4 257.7L1177.0 258.8L1178.6 260.0L1180.2 261.2L1181.8 262.4L1183.4 263.6L1185.0 264.8L1186.6 265.9L1188.2 267.1L1189.8 268.3L1191.4 269.5L1193.0 270.7L1194.6 271.9L1196.2 273.1L1197.8 274.3L1199.4 275.5L1201.0 276.6L1202.6 277.8L1204.2 279.0L1205.8 280.2L1207.4 281.4L1209.0 282.6L1210.6 283.8L1212.2 285.0L1213.8 286.2L1215.4 287.4L1217.0 288.6L1218.6 289.8L1220.2 291.0L1221.8 292.2L1223.4 293.4L1225.0 294.6L1226.6 295.7L1228.2 296.9L1229.8 298.1L1231.5 299.3L1233.1 300.5L1234.7 301.7L1236.3 302.9L1237.9 304.1L1239.5 305.3L1241.1 306.5L1242.7 307.7L1244.3 308.9L1245.9 310.1L1247.5 311.3L1249.1 312.5L1250.7 313.7L1252.3 314.9L1253.9 316.1L1255.5 317.3L1257.1 318.5L1258.7 319.7L1260.3 320.9L1261.9 322.1L1263.5 323.2L1265.1 324.4L1266.7 325.6L1268.3 326.8L1269.9 328.0L1271.5 329.2L1273.1 330.4L1274.7 331.6L1276.3 332.8L1277.9 334.0L1279.5 335.2L1281.1 336.4L1282.7 337.5L1284.4 338.7L1286.0 339.9L1287.6 341.1L1289.2 342.3L1290.8 343.5L1292.4 344.7L1294.0 345.9L1295.6 347.0L1297.2 348.2L1298.9 349.4L1300.5 350.6L1302.1 351.8L1303.7 353.0L1305.3 354.1L1306.9 355.3L1308.5 356.5L1310.2 357.7L1311.8 358.9L1313.4 360.0L1315.0 361.2L1316.6 362.4L1318.3 363.6L1319.9 364.7L1321.5 365.9L1323.1 367.1L1324.7 368.3L1326.4 369.4L1328.0 370.6L1329.6 371.8L1331.2 372.9L1332.9 374.1L1334.5 375.3L1336.1 376.4L1337.8 377.6L1339.4 378.8L1341.0 379.9L1342.7 381.1L1344.3 382.2L1345.9 383.4L1347.6 384.6L1349.2 385.7L1350.8 386.9L1352.5 388.0L1354.1 389.2L1355.7 390.3L1357.4 391.5L1359.0 392.6L1360.7 393.8L1362.3 394.9L1363.9 396.1L1365.6 397.2L1367.2 398.4L1368.9 399.5L1370.5 400.6L1372.2 401.8L1373.8 402.9L1375.5 404.1L1377.1 405.2L1378.8 406.3L1380.4 407.5L1382.1 408.6L1383.7 409.7L1385.4 410.9L1387.0 412.0L1388.7 413.1L1390.3 414.3L1392.0 415.4L1393.6 416.5L1395.3 417.6L1397.0 418.8L1398.6 419.9L1400.3 421.0L1401.9 422.1L1403.6 423.2L1405.3 424.4L1406.9 425.5L1408.6 426.6L1410.3 427.7L1411.9 428.8L1413.6 429.9L1415.3 431.0L1416.9 432.1L1418.6 433.2L1420.3 434.3L1421.9 435.5L1423.6 436.6L1425.3 437.7L1427.0 438.8L1428.6 439.9L1430.3 440.9L1432.0 442.0L1433.7 443.1L1435.4 444.2L1437.0 445.3L1438.7 446.4L1440.4 447.5L1442.1 448.6L1443.8 449.7L1445.4 450.8L1447.1 451.8L1448.8 452.9L1450.5 454.0L1452.2 455.1L1453.9 456.1L1455.6 457.2L1457.3 458.3L1459.0 459.4L1460.6 460.4L1462.3 461.5L1464.0 462.6L1465.7 463.6L1467.4 464.7L1469.1 465.8L1470.8 466.8L1472.5 467.9L1474.2 468.9L1475.9 470.0L1477.6 471.1L1479.3 472.1L1481.0 473.2L1482.7 474.2L1484.4 475.3L1486.1 476.3L1487.8 477.4L1489.6 478.4L1491.3 479.4L1493.0 480.5L1494.7 481.5L1496.4 482.6L1498.1 483.6L1499.8 484.6L1501.5 485.7L1503.3 486.7L1505.0 487.7L1506.7 488.7L1508.4 489.8L1510.1 490.8L1511.8 491.8L1513.6 492.8L1515.3 493.9L1517.0 494.9L1518.7 495.9L1520.5 496.9L1522.2 497.9L1523.9 498.9L1525.6 499.9L1527.4 500.9L1529.1 501.9L1530.8 502.9L1532.6 503.9L1534.3 504.9L1536.0 505.9L1537.8 506.9L1539.5 507.9L1541.2 508.9L1543.0 509.9L1544.7 510.9L1546.4 511.9L1548.2 512.9L1549.9 513.8L1551.7 514.8L1553.4 515.8L1555.2 516.8L1556.9 517.7L1558.7 518.7L1560.4 519.7L1562.2 520.7L1563.9 521.6L1565.7 522.6L1567.4 523.6L1569.2 524.5L1570.9 525.5L1572.7 526.4L1574.4 527.4L1576.2 528.3L1577.9 529.3L1579.7 530.2L1581.5 531.2L1583.2 532.1L1585.0 533.1L1586.7 534.0L1588.5 535.0L1590.3 535.9L1592.0 536.8L1593.8 537.8L1595.6 538.7L1597.3 539.6L1599.1 540.5L1600.9 541.5L1602.7 542.4L1604.4 543.3L1606.2 544.2L1608.0 545.2L1609.8 546.1L1611.5 547.0L1613.3 547.9L1615.1 548.8L1616.9 549.7L1618.6 550.6L1620.4 551.5L1622.2 552.4L1624.0 553.3L1625.8 554.2L1627.6 555.1L1629.4 556.0L1631.1 556.9L1632.9 557.8L1634.7 558.6L1636.5 559.5L1638.3 560.4L1640.1 561.3L1641.9 562.2L1643.7 563.0L1645.5 563.9L1647.3 564.8L1649.1 565.6L1650.9 566.5L1652.7 567.4L1654.5 568.2L1656.3 569.1L1658.1 569.9L1659.9 570.8L1661.7 571.6L1663.5 572.5L1665.3 573.3L1667.2 574.2L1669.0 575.0L1670.8 575.8L1672.6 576.7L1674.4 577.5L1676.2 578.3L1678.0 579.2L1679.9 580.0L1681.7 580.8L1683.5 581.6L1685.3 582.5L1687.1 583.3L1689.0 584.1L1690.8 584.9L1692.6 585.7L1694.4 586.5L1696.3 587.3L1698.1 588.1L1699.9 588.9L1701.8 589.7L1703.6 590.5L1705.4 591.3L1707.3 592.1L1709.1 592.9L1710.9 593.7L1712.8 594.5L1714.6 595.2L1716.5 596.0L1718.3 596.8L1720.2 597.6L1722.0 598.3L1723.8 599.1L1725.7 599.9L1727.5 600.6L1729.4 601.4L1731.2 602.1L1733.1 602.9L1734.9 603.6L1736.8 604.4L1738.6 605.1L1740.5 605.9L1742.4 606.6L1744.2 607.4L1746.1 608.1L1747.9 608.8L1749.8 609.6L1751.7 610.3L1753.5 611.0L1755.4 611.7L1757.3 612.5L1759.1 613.2L1761.0 613.9L1762.9 614.6L1764.7 615.3L1766.6 616.0L1768.5 616.7L1770.4 617.4L1772.2 618.1L1774.1 618.8L1776.0 619.5L1777.9 620.2L1779.7 620.9L1781.6 621.6L1783.5 622.3L1785.4 623.0L1787.3 623.6L1789.2 624.3L1791.0 625.0L1792.9 625.7L1794.8 626.3L1796.7 627.0L1798.6 627.7L1800.5 628.4L1802.4 629.0L1804.3 629.7L1806.2 630.3L1808.0 631.0L1809.9 631.6L1811.8 632.3L1813.7 633.0L1815.6 633.6L1817.5 634.2L1819.4 634.9L1821.3 635.5L1823.2 636.2L1825.1 636.8L1827.0 637.4L1828.9 638.1L1830.8 638.7L1832.7 639.3L1834.6 640.0L1836.5 640.6L1838.4 641.2L1840.4 641.9L1842.3 642.5L1844.2 643.1L1846.1 643.7L1848.0 644.3L1849.9 644.9L1851.8 645.6L1853.7 646.2L1855.6 646.8L1857.5 647.4L1859.4 648.0L1861.4 648.6L1863.3 649.2L1865.2 649.8L1867.1 650.4L1869.0 651.0L1870.9 651.6L1872.8 652.2L1874.8 652.8L1876.7 653.4L1878.6 654.0L1880.5 654.6L1882.4 655.2L1884.4 655.8L1886.3 656.3L1888.2 656.9L1890.1 657.5L1892.0 658.1L1893.9 658.7L1895.9 659.2L1897.8 659.8L1899.7 660.4L1901.6 661.0L1903.6 661.6L1905.5 662.1L1907.4 662.7L1909.3 663.3L1911.2 663.8L1913.2 664.4L1915.1 665.0L1917.0 665.5L1918.9 666.1L1920.9 666.7L1922.8 667.2L1924.7 667.8L1926.6 668.4L1928.6 668.9L1930.5 669.5L1932.4 670.0L1934.3 670.6L1936.3 671.2L1938.2 671.7L1940.1 672.3L1942.0 672.8L1944.0 673.4L1945.9 673.9L1947.8 674.5L1949.7 675.0L1951.7 675.6L1953.6 676.1L1955.5 676.7L1957.5 677.2L1959.4 677.8L1961.3 678.3L1963.2 678.9L1965.2 679.4L1967.1 680.0L1969.0 680.5L1970.9 681.1L1972.9 681.6L1974.8 682.2L1976.7 682.7L1978.6 683.2L1980.6 683.8L1982.5 684.3L1984.4 684.9L1986.3 685.4L1988.3 685.9L1990.2 686.5L1992.1 687.0L1994.0 687.6L1996.0 688.1L1997.9 688.6L1999.8 689.2L2001.7 689.7L2003.7 690.3L2005.6 690.8L2007.5 691.3L2009.4 691.9L2011.3 692.4L2013.3 692.9L2015.2 693.5L2017.1 694.0L2019.0 694.6L2021.0 695.1L2022.9 695.6L2024.8 696.2L2026.7 696.7L2028.6 697.2L2030.6 697.8L2032.5 698.3L2034.4 698.8L2036.3 699.4L2038.2 699.9L2040.1 700.5L2042.1 701.0L2044.0 701.5L2045.9 702.1L2047.8 702.6" stroke="#0000ff" stroke-width="4.5"/>
<path d="M241.5 1711.5L243.5 1711.1L245.4 1710.8L247.4 1710.4L249.3 1710.1L251.3 1709.7L253.3 1709.4L255.3 1709.0L257.2 1708.7L259.2 1708.4L261.2 1708.0L263.1 1707.7L265.1 1707.4L267.1 1707.1L269.1 1706.8L271.0 1706.5L273.0 1706.2L275.0 1705.9L277.0 1705.6L279.0 1705.3L280.9 1705.0L282.9 1704.7L284.9 1704.4L286.9 1704.1L288.9 1703.8L290.9 1703.5L292.8 1703.2L294.8 1702.9L296.8 1702.6L298.8 1702.3L300.8 1702.0L302.7 1701.7L304.7 1701.3L306.7 1701.0L308.7 1700.7L310.7 1700.4L312.6 1700.1L314.6 1699.7L316.6 1699.4L318.6 1699.1L320.5 1698.7L322.5 1698.4L324.5 1698.0L326.4 1697.6L328.4 1697.3L330.4 1696.9L332.3 1696.5L334.3 1696.1L336.3 1695.7L338.2 1695.3L340.2 1694.9L342.1 1694.5L344.1 1694.0L346.0 1693.6L348.0 1693.1L349.9 1692.7L351.9 1692.2L353.8 1691.7L355.7 1691.2L357.7 1690.7L359.6 1690.2L361.5 1689.6L363.5 1689.1L365.4 1688.5L367.3 1688.0L369.2 1687.4L371.1 1686.8L373.1 1686.2L375.0 1685.6L376.9 1684.9L378.8 1684.3L380.7 1683.6L382.6 1682.9L384.4 1682.2L386.3 1681.5L388.2 1680.8L390.1 1680.1L391.9 1679.4L393.8 1678.6L395.7 1677.8L397.5 1677.0L399.3 1676.3L401.2 1675.4L403.0 1674.6L404.8 1673.8L406.7 1672.9L408.5 1672.1L410.3 1671.2L412.1 1670.3L413.9 1669.4L415.7 1668.5L417.4 1667.6L419.2 1666.6L421.0 1665.7L422.7 1664.7L424.5 1663.8L426.2 1662.8L428.0 1661.8L429.7 1660.7L431.4 1659.7L433.1 1658.7L434.8 1657.6L436.5 1656.5L438.2 1655.4L439.8 1654.3L441.5 1653.2L443.1 1652.1L444.8 1651.0L446.4 1649.8L448.0 1648.7L449.6 1647.5L451.2 1646.3L452.8 1645.1L454.4 1643.9L456.0 1642.6L457.5 1641.4L459.1 1640.1L460.6 1638.9L462.1 1637.6L463.6 1636.3L465.1 1635.0L466.6 1633.7L468.1 1632.3L469.6 1631.0L471.0 1629.6L472.4 1628.3L473.9 1626.9L475.3 1625.5L476.7 1624.1L478.1 1622.7L479.5 1621.2L480.9 1619.8L482.2 1618.4L483.6 1616.9L484.9 1615.4L486.3 1613.9L487.6 1612.4L488.9 1610.9L490.2 1609.4L491.5 1607.9L492.8 1606.4L494.0 1604.8L495.3 1603.3L496.6 1601.7L497.8 1600.2L499.0 1598.6L500.2 1597.0L501.5 1595.4L502.7 1593.8L503.8 1592.2L505.0 1590.6L506.2 1588.9L507.4 1587.3L508.5 1585.7L509.7 1584.0L510.8 1582.3L511.9 1580.7L513.0 1579.0L514.1 1577.3L515.2 1575.6L516.3 1574.0L517.4 1572.3L518.5 1570.6L519.5 1568.8L520.6 1567.1L521.6 1565.4L522.7 1563.7L523.7 1561.9L524.7 1560.2L525.7 1558.5L526.7 1556.7L527.7 1555.0L528.7 1553.2L529.6 1551.4L530.6 1549.7L531.6 1547.9L532.5 1546.1L533.4 1544.4L534.4 1542.6L535.3 1540.8L536.2 1539.0L537.1 1537.2L538.0 1535.4L538.9 1533.6L539.8 1531.8L540.7 1530.0L541.5 1528.2L542.4 1526.4L543.3 1524.6L544.1 1522.8L544.9 1520.9L545.8 1519.1L546.6 1517.3L547.4 1515.5L548.2 1513.6L549.1 1511.8L549.9 1510.0L550.7 1508.1L551.4 1506.3L552.2 1504.5L553.0 1502.6L553.8 1500.8L554.6 1498.9L555.3 1497.1L556.1 1495.2L556.8 1493.4L557.6 1491.5L558.3 1489.7L559.1 1487.8L559.8 1486.0L560.5 1484.1L561.3 1482.2L562.0 1480.4L562.7 1478.5L563.4 1476.6L564.1 1474.8L564.9 1472.9L565.6 1471.0L566.3 1469.2L567.0 1467.3L567.7 1465.4L568.4 1463.5L569.0 1461.7L569.7 1459.8L570.4 1457.9L571.1 1456.0L571.8 1454.2L572.5 1452.3L573.1 1450.4L573.8 1448.5L574.5 1446.6L575.1 1444.8L575.8 1442.9L576.5 1441.0L577.1 1439.1L577.8 1437.2L578.4 1435.3L579.1 1433.4L579.7 1431.6L580.4 1429.7L581.0 1427.8L581.6 1425.9L582.3 1424.0L582.9 1422.1L583.5 1420.2L584.2 1418.3L584.8 1416.4L585.4 1414.5L586.0 1412.6L586.7 1410.7L587.3 1408.8L587.9 1406.9L588.5 1405.0L589.1 1403.1L589.7 1401.2L590.3 1399.3L590.9 1397.4L591.5 1395.5L592.1 1393.6L592.7 1391.7L593.3 1389.8L593.9 1387.9L594.5 1385.9L595.1 1384.0L595.6 1382.1L596.2 1380.2L596.8 1378.3L597.4 1376.4L597.9 1374.5L598.5 1372.6L599.1 1370.6L599.6 1368.7L600.2 1366.8L600.8 1364.9L601.3 1363.0L601.9 1361.1L602.4 1359.1L603.0 1357.2L603.5 1355.3L604.1 1353.4L604.6 1351.4L605.2 1349.5L605.7 1347.6L606.3 1345.7L606.8 1343.8L607.3 1341.8L607.9 1339.9L608.4 1338.0L608.9 1336.0L609.5 1334.1L610.0 1332.2L610.5 1330.3L611.1 1328.3L611.6 1326.4L612.1 1324.5L612.6 1322.5L613.1 1320.6L613.6 1318.7L614.2 1316.7L614.7 1314.8L615.2 1312.9L615.7 1310.9L616.2 1309.0L616.7 1307.1L617.2 1305.1L617.7 1303.2L618.2 1301.3L618.7 1299.3L619.2 1297.4L619.7 1295.4L620.2 1293.5L620.7 1291.6L621.1 1289.6L621.6 1287.7L622.1 1285.7L622.6 1283.8L623.1 1281.8L623.6 1279.9L624.0 1278.0L624.5 1276.0L625.0 1274.1L625.5 1272.1L625.9 1270.2L626.4 1268.2L626.9 1266.3L627.4 1264.3L627.8 1262.4L628.3 1260.5L628.8 1258.5L629.2 1256.6L629.7 1254.6L630.1 1252.7L630.6 1250.7L631.1 1248.8L631.5 1246.8L632.0 1244.9L632.4 1242.9L632.9 1241.0L633.3 1239.0L633.8 1237.1L634.2 1235.1L634.7 1233.2L635.1 1231.2L635.6 1229.3L636.0 1227.3L636.5 1225.3L636.9 1223.4L637.4 1221.4L637.8 1219.5L638.2 1217.5L638.7 1215.6L639.1 1213.6L639.6 1211.7L640.0 1209.7L640.4 1207.8L640.9 1205.8L641.3 1203.8L641.7 1201.9L642.2 1199.9L642.6 1198.0L643.0 1196.0L643.4 1194.1L643.9 1192.1L644.3 1190.1L644.7 1188.2L645.2 1186.2L645.6 1184.3L646.0 1182.3L646.4 1180.4L646.9 1178.4L647.3 1176.4L647.7 1174.5L648.1 1172.5L648.5 1170.6L649.0 1168.6L649.4 1166.6L649.8 1164.7L650.2 1162.7L650.6 1160.8L651.0 1158.8L651.5 1156.9L651.9 1154.9L652.3 1152.9L652.7 1151.0L653.1 1149.0L653.5 1147.1L653.9 1145.1L654.3 1143.1L654.8 1141.2L655.2 1139.2L655.6 1137.3L656.0 1135.3L656.4 1133.3L656.8 1131.4L657.2 1129.4L657.6 1127.4L658.0 1125.5L658.4 1123.5L658.8 1121.6L659.3 1119.6L659.7 1117.6L660.1 1115.7L660.5 1113.7L660.9 1111.8L661.3 1109.8L661.7 1107.8L662.1 1105.9L662.5 1103.9L662.9 1102.0L663.3 1100.0L663.7 1098.0L664.1 1096.1L664.5 1094.1L664.9 1092.2L665.3 1090.2L665.7 1088.2L666.1 1086.3L666.5 1084.3L666.9 1082.4L667.3 1080.4L667.7 1078.4L668.1 1076.5L668.5 1074.5L668.9 1072.5L669.3 1070.6L669.7 1068.6L670.1 1066.7L670.5 1064.7L670.9 1062.7L671.3 1060.8L671.7 1058.8L672.1 1056.9L672.5 1054.9L672.9 1052.9L673.2 1051.0L673.6 1049.0L674.0 1047.0L674.4 1045.1L674.8 1043.1L675.2 1041.2L675.6 1039.2L676.0 1037.2L676.4 1035.3L676.8 1033.3L677.2 1031.4L677.6 1029.4L677.9 1027.4L678.3 1025.5L678.7 1023.5L679.1 1021.5L679.5 1019.6L679.9 1017.6L680.3 1015.7L680.7 1013.7L681.1 1011.7L681.4 1009.8L681.8 1007.8L682.2 1005.8L682.6 1003.9L683.0 1001.9L683.4 1000.0L683.8 998.0L684.2 996.0L684.5 994.1L684.9 992.1L685.3 990.1L685.7 988.2L686.1 986.2L686.5 984.3L686.9 982.3L687.2 980.3L687.6 978.4L688.0 976.4L688.4 974.4L688.8 972.5L689.2 970.5L689.5 968.6L689.9 966.6L690.3 964.6L690.7 962.7L691.1 960.7L691.5 958.7L691.8 956.8L692.2 954.8L692.6 952.9L693.0 950.9L693.4 948.9L693.8 947.0L694.1 945.0L694.5 943.0L694.9 941.1L695.3 939.1L695.7 937.2L696.0 935.2L696.4 933.2L696.8 931.3L697.2 929.3L697.6 927.3L697.9 925.4L698.3 923.4L698.7 921.4L699.1 919.5L699.5 917.5L699.8 915.6L700.2 913.6L700.6 911.6L701.0 909.7L701.4 907.7L701.7 905.7L702.1 903.8L702.5 901.8L702.9 899.9L703.2 897.9L703.6 895.9L704.0 894.0L704.4 892.0L704.8 890.0L705.1 888.1L705.5 886.1L705.9 884.1L706.3 882.2L706.7 880.2L707.0 878.2L707.4 876.3L707.8 874.3L708.2 872.4L708.5 870.4L708.9 868.4L709.3 866.5L709.7 864.5L710.1 862.5L710.4 860.6L710.8 858.6L711.2 856.6L711.6 854.7L711.9 852.7L712.3 850.8L712.7 848.8L713.1 846.8L713.4 844.9L713.8 842.9L714.2 840.9L714.6 839.0L715.0 837.0L715.3 835.0L715.7 833.1L716.1 831.1L716.5 829.1L716.8 827.2L717.2 825.2L717.6 823.3L718.0 821.3L718.4 819.3L718.7 817.4L719.1 815.4L719.5 813.4L719.9 811.5L720.2 809.5L720.6 807.5L721.0 805.6L721.4 803.6L721.8 801.6L722.1 799.7L722.5 797.7L722.9 795.8L723.3 793.8L723.6 791.8L724.0 789.9L724.4 787.9L724.8 785.9L725.2 784.0L725.5 782.0L725.9 780.0L726.3 778.1L726.7 776.1L727.1 774.1L727.4 772.2L727.8 770.2L728.2 768.2L728.6 766.3L728.9 764.3L729.3 762.3L729.7 760.4L730.1 758.4L730.5 756.5L730.8 754.5L731.2 752.5L731.6 750.6L732.0 748.6L732.4 746.6L732.8 744.7L733.1 742.7L733.5 740.7L733.9 738.8L734.3 736.8L734.7 734.8L735.0 732.9L735.4 730.9L735.8 728.9L736.2 727.0L736.6 725.0L737.0 723.1L737.3 721.1L737.7 719.1L738.1 717.2L738.5 715.2L738.9 713.2L739.3 711.3L739.6 709.3L740.0 707.3L740.4 705.4L740.8 703.4L741.2 701.4L741.6 699.5L742.0 697.5L742.4 695.5L742.7 693.6L743.1 691.6L743.5 689.7L743.9 687.7L744.3 685.7L744.7 683.8L745.1 681.8L745.5 679.8L745.9 677.9L746.3 675.9L746.7 673.9L747.0 672.0L747.4 670.0L747.8 668.1L748.2 666.1L748.6 664.1L749.0 662.2L749.4 660.2L749.8 658.2L750.2 656.3L750.6 654.3L751.0 652.4L751.4 650.4L751.8 648.4L752.2 646.5L752.6 644.5L753.0 642.5L753.4 640.6L753.8 638.6L754.2 636.7L754.6 634.7L755.0 632.7L755.4 630.8L755.8 628.8L756.2 626.9L756.6 624.9L757.1 622.9L757.5 621.0L757.9 619.0L758.3 617.1L758.7 615.1L759.1 613.1L759.5 611.2L759.9 609.2L760.3 607.3L760.8 605.3L761.2 603.4L761.6 601.4L762.0 599.4L762.4 597.5L762.8 595.5L763.3 593.6L763.7 591.6L764.1 589.6L764.5 587.7L765.0 585.7L765.4 583.8L765.8 581.8L766.2 579.9L766.7 577.9L767.1 576.0L767.5 574.0L767.9 572.0L768.4 570.1L768.8 568.1L769.2 566.2L769.7 564.2L770.1 562.3L770.5 560.3L771.0 558.4L771.4 556.4L771.8 554.5L772.3 552.5L772.7 550.6L773.2 548.6L773.6 546.7L774.0 544.7L774.5 542.8L774.9 540.8L775.4 538.9L775.8 536.9L776.3 535.0L776.7 533.0L777.2 531.1L777.6 529.1L778.1 527.2L778.5 525.2L779.0 523.3L779.4 521.3L779.9 519.4L780.4 517.4L780.8 515.5L781.3 513.5L781.7 511.6L782.2 509.6L782.7 507.7L783.1 505.7L783.6 503.8L784.1 501.8L784.5 499.9L785.0 498.0L785.5 496.0L785.9 494.1L786.4 492.1L786.9 490.2L787.4 488.2L787.8 486.3L788.3 484.4L788.8 482.4L789.3 480.5L789.8 478.5L790.3 476.6L790.7 474.6L791.2 472.7L791.7 470.8L792.2 468.8L792.7 466.9L793.2 465.0L793.7 463.0L794.2 461.1L794.7 459.1L795.2 457.2L795.7 455.3L796.2 453.3L796.7 451.4L797.2 449.5L797.7 447.5L798.2 445.6L798.7 443.7L799.2 441.7L799.7 439.8L800.2 437.9L800.7 435.9L801.3 434.0L801.8 432.1L802.3 430.1L802.8 428.2L803.3 426.3L803.9 424.3L804.4 422.4L804.9 420.5L805.4 418.5L806.0 416.6L806.5 414.7L807.0 412.8L807.6 410.8L808.1 408.9L808.6 407.0L809.2 405.1L809.7 403.1L810.2 401.2L810.8 399.3L811.3 397.4L811.9 395.4L812.4 393.5L813.0 391.6L813.5 389.7L814.1 387.7L814.6 385.8L815.2 383.9L815.8 382.0L816.3 380.1L816.9 378.1L817.5 376.2L818.0 374.3L818.6 372.4L819.2 370.5L819.7 368.6L820.3 366.6L820.9 364.7L821.5 362.8L822.0 360.9L822.6 359.0L823.2 357.1L823.8 355.2L824.4 353.3L825.0 351.3L825.6 349.4L826.2 347.5L826.8 345.6L827.4 343.7L828.0 341.8L828.6 339.9L829.2 338.0L829.8 336.1L830.4 334.2L831.0 332.3L831.7 330.4L832.3 328.5L832.9 326.6L833.6 324.7L834.2 322.8L834.8 320.9L835.5 319.0L836.1 317.1L836.8 315.2L837.4 313.3L838.1 311.4L838.7 309.5L839.4 307.7L840.1 305.8L840.7 303.9L841.4 302.0L842.1 300.1L842.8 298.2L843.4 296.4L844.1 294.5L844.8 292.6L845.5 290.7L846.2 288.9L846.9 287.0L847.6 285.1L848.4 283.2L849.1 281.4L849.8 279.5L850.5 277.6L851.2 275.8L852.0 273.9L852.7 272.0L853.5 270.2L854.2 268.3L855.0 266.5L855.7 264.6L856.5 262.8L857.3 260.9L858.0 259.1L858.8 257.2L859.6 255.4L860.4 253.5L861.2 251.7L862.0 249.8L862.8 248.0L863.6 246.2L864.4 244.3L865.2 242.5L866.1 240.7L866.9 238.9L867.8 237.1L868.6 235.2L869.5 233.4L870.4 231.6L871.2 229.8L872.1 228.0L873.0 226.2L873.9 224.5L874.9 222.7L875.8 220.9L876.7 219.1L877.7 217.4L878.6 215.6L879.6 213.9L880.6 212.1L881.6 210.4L882.6 208.7L883.6 206.9L884.6 205.2L885.6 203.5L886.7 201.8L887.8 200.1L888.8 198.4L889.9 196.7L891.0 195.1L892.1 193.4L893.2 191.7L894.4 190.1L895.5 188.4L896.7 186.8L897.9 185.2L899.1 183.6L900.3 182.0L901.5 180.4L902.8 178.8L904.0 177.2L905.3 175.7L906.6 174.1L907.9 172.6L909.2 171.0L910.5 169.5L911.9 168.0L913.2 166.5L914.6 165.0L916.0 163.5L917.4 162.1L918.9 160.6L920.3 159.2L921.8 157.8L923.3 156.4L924.8 155.0L926.3 153.7L927.8 152.3L929.4 151.0L930.9 149.7L932.5 148.4L934.1 147.2L935.7 146.0L937.3 144.8L939.0 143.6L940.6 142.5L942.3 141.3L943.9 140.3L945.6 139.2L947.3 138.2L949.1 137.2L950.8 136.2L952.5 135.3L954.3 134.4L956.1 133.5L957.9 132.7L959.7 131.9L961.5 131.2L963.3 130.5L965.2 129.8L967.0 129.2L968.9 128.6L970.8 128.1L972.6 127.6L974.5 127.1L976.5 126.7L978.4 126.4L980.3 126.0L982.3 125.8L984.2 125.5L986.2 125.3L988.2 125.2L990.1 125.1L992.1 125.0L994.1 125.0L996.1 125.0L998.0 125.1L1000.0 125.2L1002.0 125.4L1004.0 125.5L1006.0 125.7L1008.0 126.0L1009.9 126.3L1011.9 126.6L1013.9 127.0L1015.9 127.3L1017.9 127.8L1019.8 128.2L1021.8 128.7L1023.8 129.2L1025.7 129.7L1027.7 130.2L1029.7 130.8L1031.6 131.4L1033.6 132.0L1035.5 132.7L1037.4 133.4L1039.4 134.0L1041.3 134.7L1043.2 135.5L1045.1 136.2L1047.0 136.9L1048.9 137.7L1050.8 138.5L1052.6 139.3L1054.5 140.1L1056.3 140.9L1058.2 141.7L1060.0 142.6L1061.9 143.4L1063.7 144.3L1065.5 145.2L1067.3 146.0L1069.1 146.9L1070.9 147.8L1072.7 148.8L1074.4 149.7L1076.2 150.6L1078.0 151.6L1079.7 152.5L1081.5 153.5L1083.2 154.5L1084.9 155.5L1086.7 156.5L1088.4 157.5L1090.1 158.5L1091.8 159.5L1093.5 160.6L1095.2 161.6L1096.9 162.7L1098.6 163.7L1100.3 164.8L1102.0 165.8L1103.7 166.9L1105.3 168.0L1107.0 169.1L1108.7 170.2L1110.3 171.3L1112.0 172.4L1113.6 173.5L1115.3 174.6L1116.9 175.8L1118.5 176.9L1120.2 178.0L1121.8 179.2L1123.4 180.3L1125.1 181.5L1126.7 182.6L1128.3 183.8L1129.9 184.9L1131.5 186.1L1133.2 187.3L1134.8 188.5L1136.4 189.6L1138.0 190.8L1139.6 192.0L1141.2 193.2L1142.8 194.4L1144.4 195.6L1146.0 196.7L1147.6 197.9L1149.2 199.1L1150.8 200.3L1152.4 201.5L1154.0 202.7L1155.6 203.9L1157.2 205.1L1158.8 206.3L1160.4 207.5L1162.0 208.7L1163.6 209.9L1165.2 211.1L1166.8 212.3L1168.4 213.5L1170.0 214.7L1171.6 215.9L1173.2 217.1L1174.8 218.3L1176.4 219.5L1178.0 220.7L1179.6 221.9L1181.2 223.1L1182.8 224.3L1184.4 225.5L1186.0 226.7L1187.6 227.9L1189.2 229.1L1190.8 230.3L1192.4 231.6L1194.0 232.8L1195.6 234.0L1197.2 235.2L1198.8 236.4L1200.4 237.6L1202.0 238.8L1203.6 240.0L1205.1 241.2L1206.7 242.4L1208.3 243.7L1209.9 244.9L1211.5 246.1L1213.1 247.3L1214.7 248.5L1216.3 249.7L1217.9 251.0L1219.5 252.2L1221.1 253.4L1222.6 254.6L1224.2 255.8L1225.8 257.0L1227.4 258.3L1229.0 259.5L1230.6 260.7L1232.2 261.9L1233.7 263.2L1235.3 264.4L1236.9 265.6L1238.5 266.8L1240.1 268.1L1241.7 269.3L1243.2 270.5L1244.8 271.7L1246.4 273.0L1248.0 274.2L1249.6 275.4L1251.2 276.6L1252.7 277.9L1254.3 279.1L1255.9 280.3L1257.5 281.6L1259.1 282.8L1260.6 284.0L1262.2 285.2L1263.8 286.5L1265.4 287.7L1267.0 288.9L1268.5 290.1L1270.1 291.4L1271.7 292.6L1273.3 293.8L1274.9 295.1L1276.5 296.3L1278.0 297.5L1279.6 298.7L1281.2 300.0L1282.8 301.2L1284.4 302.4L1285.9 303.6L1287.5 304.9L1289.1 306.1L1290.7 307.3L1292.3 308.5L1293.9 309.7L1295.4 311.0L1297.0 312.2L1298.6 313.4L1300.2 314.6L1301.8 315.9L1303.4 317.1L1305.0 318.3L1306.5 319.5L1308.1 320.7L1309.7 321.9L1311.3 323.2L1312.9 324.4L1314.5 325.6L1316.1 326.8L1317.7 328.0L1319.3 329.2L1320.9 330.4L1322.5 331.6L1324.1 332.8L1325.6 334.1L1327.2 335.3L1328.8 336.5L1330.4 337.7L1332.0 338.9L1333.6 340.1L1335.2 341.3L1336.8 342.5L1338.4 343.7L1340.0 344.9L1341.6 346.1L1343.2 347.3L1344.9 348.4L1346.5 349.6L1348.1 350.8L1349.7 352.0L1351.3 353.2L1352.9 354.4L1354.5 355.6L1356.1 356.8L1357.7 357.9L1359.3 359.1L1361.0 360.3L1362.6 361.5L1364.2 362.6L1365.8 363.8L1367.4 365.0L1369.1 366.2L1370.7 367.3L1372.3 368.5L1373.9 369.7L1375.6 370.8L1377.2 372.0L1378.8 373.1L1380.5 374.3L1382.1 375.4L1383.7 376.6L1385.4 377.8L1387.0 378.9L1388.6 380.1L1390.3 381.2L1391.9 382.3L1393.5 383.5L1395.2 384.6L1396.8 385.8L1398.5 386.9L1400.1 388.0L1401.8 389.2L1403.4 390.3L1405.1 391.4L1406.7 392.6L1408.4 393.7L1410.0 394.8L1411.7 396.0L1413.3 397.1L1415.0 398.2L1416.6 399.3L1418.3 400.4L1420.0 401.6L1421.6 402.7L1423.3 403.8L1424.9 404.9L1426.6 406.0L1428.3 407.1L1429.9 408.2L1431.6 409.3L1433.3 410.4L1434.9 411.5L1436.6 412.6L1438.3 413.7L1440.0 414.8L1441.6 415.9L1443.3 417.0L1445.0 418.1L1446.7 419.2L1448.4 420.3L1450.0 421.3L1451.7 422.4L1453.4 423.5L1455.1 424.6L1456.8 425.7L1458.5 426.7L1460.1 427.8L1461.8 428.9L1463.5 430.0L1465.2 431.0L1466.9 432.1L1468.6 433.2L1470.3 434.2L1472.0 435.3L1473.7 436.3L1475.4 437.4L1477.1 438.5L1478.8 439.5L1480.5 440.6L1482.2 441.6L1483.9 442.7L1485.6 443.7L1487.3 444.8L1489.0 445.8L1490.7 446.8L1492.4 447.9L1494.1 448.9L1495.8 450.0L1497.6 451.0L1499.3 452.0L1501.0 453.0L1502.7 454.1L1504.4 455.1L1506.1 456.1L1507.9 457.2L1509.6 458.2L1511.3 459.2L1513.0 460.2L1514.7 461.2L1516.5 462.2L1518.2 463.3L1519.9 464.3L1521.6 465.3L1523.4 466.3L1525.1 467.3L1526.8 468.3L1528.6 469.3L1530.3 470.3L1532.0 471.3L1533.8 472.3L1535.5 473.3L1537.2 474.3L1539.0 475.3L1540.7 476.2L1542.5 477.2L1544.2 478.2L1545.9 479.2L1547.7 480.2L1549.4 481.2L1551.2 482.1L1552.9 483.1L1554.7 484.1L1556.4 485.1L1558.2 486.0L1559.9 487.0L1561.7 488.0L1563.4 488.9L1565.2 489.9L1566.9 490.8L1568.7 491.8L1570.4 492.8L1572.2 493.7L1574.0 494.7L1575.7 495.6L1577.5 496.6L1579.2 497.5L1581.0 498.5L1582.8 499.4L1584.5 500.4L1586.3 501.3L1588.1 502.2L1589.8 503.2L1591.6 504.1L1593.4 505.0L1595.1 506.0L1596.9 506.9L1598.7 507.8L1600.5 508.7L1602.2 509.7L1604.0 510.6L1605.8 511.5L1607.6 512.4L1609.3 513.3L1611.1 514.2L1612.9 515.2L1614.7 516.1L1616.5 517.0L1618.3 517.9L1620.0 518.8L1621.8 519.7L1623.6 520.6L1625.4 521.5L1627.2 522.4L1629.0 523.3L1630.8 524.2L1632.6 525.1L1634.4 525.9L1636.1 526.8L1637.9 527.7L1639.7 528.6L1641.5 529.5L1643.3 530.4L1645.1 531.2L1646.9 532.1L1648.7 533.0L1650.5 533.8L1652.3 534.7L1654.1 535.6L1655.9 536.5L1657.7 537.3L1659.5 538.2L1661.4 539.0L1663.2 539.9L1665.0 540.7L1666.8 541.6L1668.6 542.4L1670.4 543.3L1672.2 544.1L1674.0 545.0L1675.8 545.8L1677.7 546.7L1679.5 547.5L1681.3 548.4L1683.1 549.2L1684.9 550.0L1686.7 550.9L1688.6 551.7L1690.4 552.5L1692.2 553.3L1694.0 554.2L1695.9 555.0L1697.7 555.8L1699.5 556.6L1701.3 557.4L1703.2 558.2L1705.0 559.1L1706.8 559.9L1708.7 560.7L1710.5 561.5L1712.3 562.3L1714.1 563.1L1716.0 563.9L1717.8 564.7L1719.7 565.5L1721.5 566.3L1723.3 567.1L1725.2 567.9L1727.0 568.6L1728.8 569.4L1730.7 570.2L1732.5 571.0L1734.4 571.8L1736.2 572.6L1738.1 573.3L1739.9 574.1L1741.7 574.9L1743.6 575.6L1745.4 576.4L1747.3 577.2L1749.1 577.9L1751.0 578.7L1752.8 579.5L1754.7 580.2L1756.5 581.0L1758.4 581.7L1760.2 582.5L1762.1 583.2L1764.0 584.0L1765.8 584.7L1767.7 585.5L1769.5 586.2L1771.4 587.0L1773.2 587.7L1775.1 588.4L1777.0 589.2L1778.8 589.9L1780.7 590.6L1782.6 591.4L1784.4 592.1L1786.3 592.8L1788.2 593.5L1790.0 594.3L1791.9 595.0L1793.8 595.7L1795.6 596.4L1797.5 597.1L1799.4 597.8L1801.2 598.6L1803.1 599.3L1805.0 600.0L1806.9 600.7L1808.7 601.4L1810.6 602.1L1812.5 602.8L1814.4 603.5L1816.2 604.2L1818.1 604.9L1820.0 605.6L1821.9 606.2L1823.7 606.9L1825.6 607.6L1827.5 608.3L1829.4 609.0L1831.3 609.7L1833.2 610.3L1835.0 611.0L1836.9 611.7L1838.8 612.4L1840.7 613.0L1842.6 613.7L1844.5 614.4L1846.4 615.0L1848.2 615.7L1850.1 616.3L1852.0 617.0L1853.9 617.7L1855.8 618.3L1857.7 619.0L1859.6 619.6L1861.5 620.3L1863.4 620.9L1865.3 621.6L1867.2 622.2L1869.1 622.8L1871.0 623.5L1872.9 624.1L1874.8 624.7L1876.7 625.4L1878.6 626.0L1880.5 626.6L1882.4 627.3L1884.3 627.9L1886.2 628.5L1888.1 629.1L1890.0 629.8L1891.9 630.4L1893.8 631.0L1895.7 631.6L1897.6 632.2L1899.5 632.8L1901.4 633.4L1903.3 634.0L1905.2 634.7L1907.1 635.3L1909.0 635.9L1910.9 636.5L1912.8 637.1L1914.8 637.7L1916.7 638.2L1918.6 638.8L1920.5 639.4L1922.4 640.0L1924.3 640.6L1926.2 641.2L1928.1 641.8L1930.1 642.4L1932.0 642.9L1933.9 643.5L1935.8 644.1L1937.7 644.7L1939.6 645.2L1941.6 645.8L1943.5 646.4L1945.4 646.9L1947.3 647.5L1949.2 648.1L1951.2 648.6L1953.1 649.2L1955.0 649.7L1956.9 650.3L1958.8 650.8L1960.8 651.4L1962.7 651.9L1964.6 652.5L1966.5 653.0L1968.5 653.6L1970.4 654.1L1972.3 654.7L1974.2 655.2L1976.2 655.7L1978.1 656.3L1980.0 656.8L1982.0 657.3L1983.9 657.9L1985.8 658.4L1987.7 658.9L1989.7 659.4L1991.6 660.0L1993.5 660.5L1995.5 661.0L1997.4 661.5L1999.3 662.0L2001.3 662.5L2003.2 663.1L2005.1 663.6L2007.1 664.1L2009.0 664.6L2010.9 665.1L2012.9 665.6L2014.8 666.1L2016.8 666.6L2018.7 667.1L2020.6 667.6L2022.6 668.1L2024.5 668.6L2026.4 669.0L2028.4 669.5L2030.3 670.0L2032.3 670.5L2034.2 671.0L2036.1 671.5L2038.1 671.9L2040.0 672.4L2042.0 672.9L2043.9 673.4L2045.9 673.8L2047.8 674.3" stroke="#ff0000" stroke-width="4.5" stroke-dasharray="49.55 28.13"/>
<path d="M241.5 1711.5L243.5 1711.4L245.5 1711.4L247.5 1711.3L249.5 1711.3L251.5 1711.2L253.4 1711.2L255.4 1711.1L257.4 1711.1L259.4 1711.1L261.4 1711.0L263.4 1711.0L265.4 1710.9L267.4 1710.9L269.4 1710.9L271.4 1710.8L273.4 1710.8L275.4 1710.8L277.4 1710.7L279.4 1710.7L281.4 1710.7L283.4 1710.7L285.4 1710.6L287.4 1710.6L289.4 1710.6L291.4 1710.6L293.4 1710.6L295.4 1710.5L297.4 1710.5L299.4 1710.5L301.4 1710.5L303.4 1710.5L305.4 1710.4L307.4 1710.4L309.4 1710.4L311.4 1710.4L313.4 1710.4L315.4 1710.4L317.4 1710.3L319.4 1710.3L321.4 1710.3L323.4 1710.3L325.4 1710.3L327.4 1710.3L329.4 1710.2L331.4 1710.2L333.4 1710.2L335.4 1710.2L337.4 1710.2L339.4 1710.1L341.4 1710.1L343.4 1710.1L345.4 1710.1L347.4 1710.0L349.4 1710.0L351.4 1710.0L353.4 1710.0L355.4 1709.9L357.4 1709.9L359.4 1709.9L361.4 1709.8L363.4 1709.8L365.4 1709.8L367.5 1709.7L369.5 1709.7L371.5 1709.6L373.5 1709.6L375.5 1709.5L377.5 1709.5L379.5 1709.4L381.5 1709.4L383.5 1709.3L385.5 1709.3L387.5 1709.2L389.5 1709.1L391.5 1709.1L393.5 1709.0L395.5 1708.9L397.5 1708.9L399.5 1708.8L401.5 1708.7L403.5 1708.6L405.5 1708.6L407.5 1708.5L409.5 1708.4L411.5 1708.3L413.5 1708.2L415.6 1708.1L417.6 1708.0L419.6 1707.9L421.6 1707.8L423.6 1707.7L425.6 1707.5L427.6 1707.4L429.6 1707.3L431.6 1707.2L433.6 1707.0L435.6 1706.9L437.6 1706.8L439.6 1706.6L441.6 1706.5L443.6 1706.3L445.6 1706.2L447.6 1706.0L449.6 1705.8L451.6 1705.7L453.6 1705.5L455.6 1705.3L457.6 1705.1L459.6 1705.0L461.6 1704.8L463.6 1704.6L465.6 1704.4L467.6 1704.2L469.6 1704.0L471.6 1703.7L473.6 1703.5L475.6 1703.3L477.6 1703.1L479.6 1702.8L481.5 1702.6L483.5 1702.3L485.5 1702.1L487.5 1701.8L489.5 1701.6L491.5 1701.3L493.5 1701.0L495.5 1700.7L497.5 1700.4L499.5 1700.2L501.5 1699.9L503.5 1699.5L505.4 1699.2L507.4 1698.9L509.4 1698.6L511.4 1698.3L513.4 1697.9L515.3 1697.6L517.3 1697.2L519.3 1696.9L521.3 1696.5L523.2 1696.1L525.2 1695.7L527.2 1695.3L529.1 1694.9L531.1 1694.5L533.1 1694.1L535.0 1693.7L537.0 1693.3L539.0 1692.9L540.9 1692.4L542.9 1692.0L544.8 1691.5L546.8 1691.0L548.7 1690.6L550.6 1690.1L552.6 1689.6L554.5 1689.1L556.5 1688.6L558.4 1688.1L560.3 1687.6L562.2 1687.0L564.2 1686.5L566.1 1685.9L568.0 1685.4L569.9 1684.8L571.8 1684.2L573.7 1683.6L575.6 1683.0L577.5 1682.4L579.4 1681.8L581.3 1681.2L583.2 1680.6L585.1 1679.9L587.0 1679.3L588.9 1678.6L590.7 1677.9L592.6 1677.2L594.5 1676.6L596.3 1675.8L598.2 1675.1L600.1 1674.4L601.9 1673.7L603.8 1672.9L605.6 1672.2L607.4 1671.4L609.3 1670.7L611.1 1669.9L612.9 1669.1L614.8 1668.3L616.6 1667.5L618.4 1666.7L620.2 1665.8L622.0 1665.0L623.8 1664.2L625.6 1663.3L627.4 1662.5L629.2 1661.6L631.0 1660.7L632.8 1659.8L634.6 1658.9L636.3 1658.0L638.1 1657.1L639.9 1656.2L641.6 1655.2L643.4 1654.3L645.1 1653.3L646.9 1652.4L648.6 1651.4L650.3 1650.4L652.1 1649.4L653.8 1648.4L655.5 1647.4L657.2 1646.4L659.0 1645.4L660.7 1644.4L662.4 1643.3L664.1 1642.3L665.8 1641.3L667.4 1640.2L669.1 1639.1L670.8 1638.1L672.5 1637.0L674.2 1635.9L675.8 1634.8L677.5 1633.7L679.1 1632.6L680.8 1631.4L682.5 1630.3L684.1 1629.2L685.7 1628.1L687.4 1626.9L689.0 1625.8L690.7 1624.6L692.3 1623.4L693.9 1622.3L695.5 1621.1L697.1 1619.9L698.8 1618.7L700.4 1617.6L702.0 1616.4L703.6 1615.2L705.2 1614.0L706.8 1612.7L708.4 1611.5L710.0 1610.3L711.6 1609.1L713.2 1607.9L714.7 1606.6L716.3 1605.4L717.9 1604.2L719.5 1602.9L721.1 1601.7L722.6 1600.4L724.2 1599.2L725.8 1597.9L727.3 1596.7L728.9 1595.4L730.5 1594.1L732.0 1592.9L733.6 1591.6L735.1 1590.3L736.7 1589.0L738.3 1587.8L739.8 1586.5L741.4 1585.2L742.9 1583.9L744.4 1582.6L746.0 1581.3L747.5 1580.1L749.1 1578.8L750.6 1577.5L752.2 1576.2L753.7 1574.9L755.2 1573.6L756.8 1572.3L758.3 1571.0L759.8 1569.7L761.4 1568.4L762.9 1567.1L764.4 1565.8L766.0 1564.5L767.5 1563.2L769.0 1561.9L770.6 1560.6L772.1 1559.3L773.6 1558.0L775.1 1556.7L776.7 1555.4L778.2 1554.1L779.7 1552.8L781.2 1551.5L782.8 1550.2L784.3 1548.9L785.8 1547.6L787.3 1546.3L788.8 1545.0L790.4 1543.6L791.9 1542.3L793.4 1541.0L794.9 1539.7L796.4 1538.4L798.0 1537.1L799.5 1535.8L801.0 1534.5L802.5 1533.2L804.0 1531.9L805.5 1530.6L807.1 1529.3L808.6 1527.9L810.1 1526.6L811.6 1525.3L813.1 1524.0L814.6 1522.7L816.2 1521.4L817.7 1520.1L819.2 1518.8L820.7 1517.5L822.2 1516.2L823.7 1514.9L825.2 1513.6L826.8 1512.2L828.3 1510.9L829.8 1509.6L831.3 1508.3L832.8 1507.0L834.3 1505.7L835.9 1504.4L837.4 1503.1L838.9 1501.8L840.4 1500.5L841.9 1499.2L843.5 1497.9L845.0 1496.6L846.5 1495.3L848.0 1494.0L849.5 1492.7L851.1 1491.4L852.6 1490.1L854.1 1488.8L855.6 1487.5L857.2 1486.2L858.7 1485.0L860.2 1483.7L861.7 1482.4L863.3 1481.1L864.8 1479.8L866.3 1478.5L867.8 1477.2L869.4 1475.9L870.9 1474.7L872.4 1473.4L874.0 1472.1L875.5 1470.8L877.0 1469.5L878.6 1468.3L880.1 1467.0L881.7 1465.7L883.2 1464.4L884.7 1463.2L886.3 1461.9L887.8 1460.6L889.4 1459.4L890.9 1458.1L892.5 1456.8L894.0 1455.6L895.6 1454.3L897.1 1453.0L898.7 1451.8L900.2 1450.5L901.8 1449.3L903.3 1448.0L904.9 1446.8L906.4 1445.5L908.0 1444.3L909.6 1443.0L911.1 1441.8L912.7 1440.5L914.3 1439.3L915.8 1438.1L917.4 1436.8L919.0 1435.6L920.5 1434.4L922.1 1433.1L923.7 1431.9L925.3 1430.7L926.9 1429.5L928.4 1428.3L930.0 1427.0L931.6 1425.8L933.2 1424.6L934.8 1423.4L936.4 1422.2L938.0 1421.0L939.6 1419.8L941.2 1418.6L942.8 1417.4L944.4 1416.2L946.0 1415.0L947.6 1413.8L949.2 1412.6L950.8 1411.4L952.4 1410.2L954.0 1409.0L955.6 1407.9L957.3 1406.7L958.9 1405.5L960.5 1404.3L962.1 1403.2L963.7 1402.0L965.4 1400.8L967.0 1399.6L968.6 1398.5L970.3 1397.3L971.9 1396.2L973.5 1395.0L975.2 1393.9L976.8 1392.7L978.4 1391.6L980.1 1390.4L981.7 1389.3L983.4 1388.1L985.0 1387.0L986.7 1385.8L988.3 1384.7L990.0 1383.6L991.6 1382.5L993.3 1381.3L994.9 1380.2L996.6 1379.1L998.2 1378.0L999.9 1376.8L1001.6 1375.7L1003.2 1374.6L1004.9 1373.5L1006.6 1372.4L1008.2 1371.3L1009.9 1370.2L1011.6 1369.1L1013.3 1368.0L1014.9 1366.9L1016.6 1365.8L1018.3 1364.7L1020.0 1363.6L1021.7 1362.5L1023.3 1361.4L1025.0 1360.4L1026.7 1359.3L1028.4 1358.2L1030.1 1357.1L1031.8 1356.0L1033.5 1355.0L1035.2 1353.9L1036.9 1352.8L1038.6 1351.8L1040.3 1350.7L1042.0 1349.7L1043.7 1348.6L1045.4 1347.6L1047.1 1346.5L1048.8 1345.5L1050.5 1344.4L1052.2 1343.4L1053.9 1342.3L1055.7 1341.3L1057.4 1340.2L1059.1 1339.2L1060.8 1338.2L1062.5 1337.2L1064.2 1336.1L1066.0 1335.1L1067.7 1334.1L1069.4 1333.1L1071.1 1332.0L1072.9 1331.0L1074.6 1330.0L1076.3 1329.0L1078.1 1328.0L1079.8 1327.0L1081.5 1326.0L1083.3 1325.0L1085.0 1324.0L1086.8 1323.0L1088.5 1322.0L1090.2 1321.0L1092.0 1320.0L1093.7 1319.1L1095.5 1318.1L1097.2 1317.1L1099.0 1316.1L1100.7 1315.2L1102.5 1314.2L1104.2 1313.2L1106.0 1312.2L1107.7 1311.3L1109.5 1310.3L1111.2 1309.4L1113.0 1308.4L1114.8 1307.5L1116.5 1306.5L1118.3 1305.6L1120.1 1304.6L1121.8 1303.7L1123.6 1302.7L1125.4 1301.8L1127.1 1300.8L1128.9 1299.9L1130.7 1299.0L1132.4 1298.1L1134.2 1297.1L1136.0 1296.2L1137.8 1295.3L1139.6 1294.4L1141.3 1293.5L1143.1 1292.5L1144.9 1291.6L1146.7 1290.7L1148.5 1289.8L1150.2 1288.9L1152.0 1288.0L1153.8 1287.1L1155.6 1286.2L1157.4 1285.3L1159.2 1284.4L1161.0 1283.6L1162.8 1282.7L1164.6 1281.8L1166.4 1280.9L1168.2 1280.0L1170.0 1279.2L1171.8 1278.3L1173.6 1277.4L1175.4 1276.5L1177.2 1275.7L1179.0 1274.8L1180.8 1274.0L1182.6 1273.1L1184.4 1272.2L1186.2 1271.4L1188.0 1270.5L1189.8 1269.7L1191.6 1268.8L1193.5 1268.0L1195.3 1267.2L1197.1 1266.3L1198.9 1265.5L1200.7 1264.7L1202.5 1263.8L1204.4 1263.0L1206.2 1262.2L1208.0 1261.3L1209.8 1260.5L1211.7 1259.7L1213.5 1258.9L1215.3 1258.1L1217.1 1257.3L1219.0 1256.5L1220.8 1255.6L1222.6 1254.8L1224.5 1254.0L1226.3 1253.2L1228.1 1252.4L1230.0 1251.7L1231.8 1250.9L1233.6 1250.1L1235.5 1249.3L1237.3 1248.5L1239.2 1247.7L1241.0 1246.9L1242.8 1246.2L1244.7 1245.4L1246.5 1244.6L1248.4 1243.8L1250.2 1243.1L1252.1 1242.3L1253.9 1241.5L1255.8 1240.8L1257.6 1240.0L1259.5 1239.3L1261.3 1238.5L1263.2 1237.8L1265.0 1237.0L1266.9 1236.3L1268.7 1235.5L1270.6 1234.8L1272.5 1234.0L1274.3 1233.3L1276.2 1232.6L1278.0 1231.8L1279.9 1231.1L1281.8 1230.4L1283.6 1229.7L1285.5 1228.9L1287.4 1228.2L1289.2 1227.5L1291.1 1226.8L1293.0 1226.1L1294.8 1225.4L1296.7 1224.7L1298.6 1223.9L1300.5 1223.2L1302.3 1222.5L1304.2 1221.8L1306.1 1221.1L1308.0 1220.5L1309.8 1219.8L1311.7 1219.1L1313.6 1218.4L1315.5 1217.7L1317.4 1217.0L1319.3 1216.3L1321.1 1215.7L1323.0 1215.0L1324.9 1214.3L1326.8 1213.6L1328.7 1213.0L1330.6 1212.3L1332.5 1211.6L1334.3 1211.0L1336.2 1210.3L1338.1 1209.7L1340.0 1209.0L1341.9 1208.3L1343.8 1207.7L1345.7 1207.0L1347.6 1206.4L1349.5 1205.8L1351.4 1205.1L1353.3 1204.5L1355.2 1203.8L1357.1 1203.2L1359.0 1202.6L1360.9 1201.9L1362.8 1201.3L1364.7 1200.7L1366.6 1200.1L1368.5 1199.4L1370.4 1198.8L1372.3 1198.2L1374.2 1197.6L1376.1 1197.0L1378.0 1196.4L1379.9 1195.8L1381.8 1195.2L1383.7 1194.6L1385.6 1194.0L1387.6 1193.4L1389.5 1192.8L1391.4 1192.2L1393.3 1191.6L1395.2 1191.0L1397.1 1190.4L1399.0 1189.8L1400.9 1189.2L1402.9 1188.7L1404.8 1188.1L1406.7 1187.5L1408.6 1186.9L1410.5 1186.4L1412.5 1185.8L1414.4 1185.2L1416.3 1184.7L1418.2 1184.1L1420.1 1183.5L1422.1 1183.0L1424.0 1182.4L1425.9 1181.9L1427.8 1181.3L1429.7 1180.8L1431.7 1180.2L1433.6 1179.7L1435.5 1179.1L1437.5 1178.6L1439.4 1178.1L1441.3 1177.5L1443.2 1177.0L1445.2 1176.5L1447.1 1175.9L1449.0 1175.4L1451.0 1174.9L1452.9 1174.3L1454.8 1173.8L1456.8 1173.3L1458.7 1172.8L1460.6 1172.3L1462.6 1171.8L1464.5 1171.2L1466.4 1170.7L1468.4 1170.2L1470.3 1169.7L1472.2 1169.2L1474.2 1168.7L1476.1 1168.2L1478.1 1167.7L1480.0 1167.2L1481.9 1166.7L1483.9 1166.2L1485.8 1165.7L1487.8 1165.3L1489.7 1164.8L1491.6 1164.3L1493.6 1163.8L1495.5 1163.3L1497.5 1162.8L1499.4 1162.4L1501.4 1161.9L1503.3 1161.4L1505.2 1160.9L1507.2 1160.5L1509.1 1160.0L1511.1 1159.5L1513.0 1159.1L1515.0 1158.6L1516.9 1158.2L1518.9 1157.7L1520.8 1157.2L1522.8 1156.8L1524.7 1156.3L1526.7 1155.9L1528.6 1155.4L1530.6 1155.0L1532.5 1154.5L1534.5 1154.1L1536.4 1153.7L1538.4 1153.2L1540.3 1152.8L1542.3 1152.3L1544.2 1151.9L1546.2 1151.5L1548.2 1151.0L1550.1 1150.6L1552.1 1150.2L1554.0 1149.8L1556.0 1149.3L1557.9 1148.9L1559.9 1148.5L1561.9 1148.1L1563.8 1147.7L1565.8 1147.2L1567.7 1146.8L1569.7 1146.4L1571.6 1146.0L1573.6 1145.6L1575.6 1145.2L1577.5 1144.8L1579.5 1144.4L1581.4 1144.0L1583.4 1143.6L1585.4 1143.2L1587.3 1142.8L1589.3 1142.4L1591.3 1142.0L1593.2 1141.6L1595.2 1141.2L1597.1 1140.8L1599.1 1140.4L1601.1 1140.0L1603.0 1139.7L1605.0 1139.3L1607.0 1138.9L1608.9 1138.5L1610.9 1138.1L1612.9 1137.8L1614.8 1137.4L1616.8 1137.0L1618.8 1136.6L1620.7 1136.3L1622.7 1135.9L1624.7 1135.5L1626.6 1135.2L1628.6 1134.8L1630.6 1134.4L1632.5 1134.1L1634.5 1133.7L1636.5 1133.4L1638.4 1133.0L1640.4 1132.6L1642.4 1132.3L1644.4 1131.9L1646.3 1131.6L1648.3 1131.2L1650.3 1130.9L1652.2 1130.5L1654.2 1130.2L1656.2 1129.9L1658.1 1129.5L1660.1 1129.2L1662.1 1128.8L1664.1 1128.5L1666.0 1128.2L1668.0 1127.8L1670.0 1127.5L1672.0 1127.2L1673.9 1126.8L1675.9 1126.5L1677.9 1126.2L1679.9 1125.8L1681.8 1125.5L1683.8 1125.2L1685.8 1124.9L1687.8 1124.6L1689.7 1124.2L1691.7 1123.9L1693.7 1123.6L1695.7 1123.3L1697.6 1123.0L1699.6 1122.7L1701.6 1122.3L1703.6 1122.0L1705.5 1121.7L1707.5 1121.4L1709.5 1121.1L1711.5 1120.8L1713.5 1120.5L1715.4 1120.2L1717.4 1119.9L1719.4 1119.6L1721.4 1119.3L1723.3 1119.0L1725.3 1118.7L1727.3 1118.4L1729.3 1118.1L1731.3 1117.8L1733.2 1117.6L1735.2 1117.3L1737.2 1117.0L1739.2 1116.7L1741.2 1116.4L1743.2 1116.1L1745.1 1115.8L1747.1 1115.6L1749.1 1115.3L1751.1 1115.0L1753.1 1114.7L1755.0 1114.5L1757.0 1114.2L1759.0 1113.9L1761.0 1113.6L1763.0 1113.4L1765.0 1113.1L1766.9 1112.8L1768.9 1112.6L1770.9 1112.3L1772.9 1112.0L1774.9 1111.8L1776.9 1111.5L1778.8 1111.2L1780.8 1111.0L1782.8 1110.7L1784.8 1110.5L1786.8 1110.2L1788.8 1110.0L1790.8 1109.7L1792.7 1109.5L1794.7 1109.2L1796.7 1109.0L1798.7 1108.7L1800.7 1108.5L1802.7 1108.2L1804.7 1108.0L1806.6 1107.7L1808.6 1107.5L1810.6 1107.2L1812.6 1107.0L1814.6 1106.7L1816.6 1106.5L1818.6 1106.3L1820.6 1106.0L1822.5 1105.8L1824.5 1105.6L1826.5 1105.3L1828.5 1105.1L1830.5 1104.9L1832.5 1104.6L1834.5 1104.4L1836.5 1104.2L1838.5 1104.0L1840.4 1103.7L1842.4 1103.5L1844.4 1103.3L1846.4 1103.1L1848.4 1102.8L1850.4 1102.6L1852.4 1102.4L1854.4 1102.2L1856.4 1102.0L1858.4 1101.7L1860.3 1101.5L1862.3 1101.3L1864.3 1101.1L1866.3 1100.9L1868.3 1100.7L1870.3 1100.5L1872.3 1100.3L1874.3 1100.0L1876.3 1099.8L1878.3 1099.6L1880.3 1099.4L1882.2 1099.2L1884.2 1099.0L1886.2 1098.8L1888.2 1098.6L1890.2 1098.4L1892.2 1098.2L1894.2 1098.0L1896.2 1097.8L1898.2 1097.6L1900.2 1097.4L1902.2 1097.2L1904.2 1097.0L1906.2 1096.8L1908.2 1096.6L1910.1 1096.5L1912.1 1096.3L1914.1 1096.1L1916.1 1095.9L1918.1 1095.7L1920.1 1095.5L1922.1 1095.3L1924.1 1095.1L1926.1 1095.0L1928.1 1094.8L1930.1 1094.6L1932.1 1094.4L1934.1 1094.2L1936.1 1094.0L1938.1 1093.9L1940.0 1093.7L1942.0 1093.5L1944.0 1093.3L1946.0 1093.2L1948.0 1093.0L1950.0 1092.8L1952.0 1092.6L1954.0 1092.5L1956.0 1092.3L1958.0 1092.1L1960.0 1092.0L1962.0 1091.8L1964.0 1091.6L1966.0 1091.4L1968.0 1091.3L1970.0 1091.1L1972.0 1091.0L1974.0 1090.8L1976.0 1090.6L1977.9 1090.5L1979.9 1090.3L1981.9 1090.1L1983.9 1090.0L1985.9 1089.8L1987.9 1089.7L1989.9 1089.5L1991.9 1089.3L1993.9 1089.2L1995.9 1089.0L1997.9 1088.9L1999.9 1088.7L2001.9 1088.6L2003.9 1088.4L2005.9 1088.3L2007.9 1088.1L2009.9 1088.0L2011.9 1087.8L2013.9 1087.7L2015.9 1087.5L2017.9 1087.4L2019.9 1087.2L2021.9 1087.1L2023.8 1086.9L2025.8 1086.8L2027.8 1086.6L2029.8 1086.5L2031.8 1086.3L2033.8 1086.2L2035.8 1086.0L2037.8 1085.9L2039.8 1085.8L2041.8 1085.6L2043.8 1085.5L2045.8 1085.3L2047.8 1085.2" stroke="#000000" stroke-width="4.5" stroke-dasharray="39.4 13.9 10.5 13.86"/>
</g>
<g>
<text transform="translate(239.70 1804.80) scale(0.985 1.015)" font-size="64.7" text-anchor="middle" fill="#262626">0</text>
<text transform="translate(540.56 1804.80) scale(0.985 1.015)" font-size="64.7" text-anchor="middle" fill="#262626">500</text>
<text transform="translate(841.41 1804.80) scale(0.985 1.015)" font-size="64.7" text-anchor="middle" fill="#262626">1000</text>
<text transform="translate(1142.27 1804.80) scale(0.985 1.015)" font-size="64.7" text-anchor="middle" fill="#262626">1500</text>
<text transform="translate(1443.13 1804.80) scale(0.985 1.015)" font-size="64.7" text-anchor="middle" fill="#262626">2000</text>
<text transform="translate(1743.99 1804.80) scale(0.985 1.015)" font-size="64.7" text-anchor="middle" fill="#262626">2500</text>
<text transform="translate(2044.84 1804.80) scale(0.985 1.015)" font-size="64.7" text-anchor="middle" fill="#262626">3000</text>
<text transform="translate(2345.70 1804.80) scale(0.985 1.015)" font-size="64.7" text-anchor="middle" fill="#262626">3500</text>
<text transform="translate(213.10 1738.10) scale(0.98 1.015)" font-size="64.7" text-anchor="end" fill="#262626">0</text>
<text transform="translate(213.10 1460.68) scale(0.98 1.015)" font-size="64.7" text-anchor="end" fill="#262626">0.2</text>
<text transform="translate(213.10 1183.27) scale(0.98 1.015)" font-size="64.7" text-anchor="end" fill="#262626">0.4</text>
<text transform="translate(213.10 905.85) scale(0.98 1.015)" font-size="64.7" text-anchor="end" fill="#262626">0.6</text>
<text transform="translate(213.10 628.43) scale(0.98 1.015)" font-size="64.7" text-anchor="end" fill="#262626">0.8</text>
<text transform="translate(213.10 351.02) scale(0.98 1.015)" font-size="64.7" text-anchor="end" fill="#262626">1</text>
<text transform="translate(213.10 73.60) scale(0.98 1.015)" font-size="64.7" text-anchor="end" fill="#262626">1.2</text>
</g>
<text transform="translate(1294.50 1899.30)" font-size="71.2" text-anchor="middle" fill="#262626">time</text>
<text transform="translate(83.60 878.50) rotate(-90)" font-size="71.2" text-anchor="middle" fill="#262626">Numerical solution for order 0.99</text>
<g>
<rect x="1979.1" y="109.9" width="305.8" height="417.1" fill="#ffffff" stroke="#262626" stroke-width="4"/>
<line x1="1998.0" y1="158.6" x2="2193.0" y2="158.6" stroke="#0000ff" stroke-width="4.5" stroke-dasharray="6 13.375" shape-rendering="crispEdges"/>
<text transform="translate(2207.30 183.10) scale(1.0 1.05)" font-size="58.2" text-anchor="start" fill="#000000">S</text>
<line x1="1998.0" y1="238.65" x2="2193.0" y2="238.65" stroke="#000000" stroke-width="4.5" stroke-dasharray="49.4 28.1" shape-rendering="crispEdges"/>
<text transform="translate(2207.30 263.15) scale(1.0 1.05)" font-size="58.2" text-anchor="start" fill="#000000">I</text>
<line x1="1998.0" y1="318.7" x2="2193.0" y2="318.7" stroke="#0000ff" stroke-width="4.5" shape-rendering="crispEdges"/>
<text transform="translate(2207.30 343.20) scale(1.0 1.05)" font-size="58.2" text-anchor="start" fill="#000000">W</text>
<line x1="1998.0" y1="398.75" x2="2193.0" y2="398.75" stroke="#ff0000" stroke-width="4.5" stroke-dasharray="49.4 28.1" shape-rendering="crispEdges"/>
<text transform="translate(2207.30 423.25) scale(1.0 1.05)" font-size="58.2" text-anchor="start" fill="#000000">D</text>
<line x1="1998.0" y1="478.8" x2="2193.0" y2="478.8" stroke="#000000" stroke-width="4.5" stroke-dasharray="39.3 13.9 10.5 13.8" shape-rendering="crispEdges"/>
<text transform="translate(2207.30 503.30) scale(1.0 1.05)" font-size="58.2" text-anchor="start" fill="#000000">R</text>
</g>
</svg></body></html>
